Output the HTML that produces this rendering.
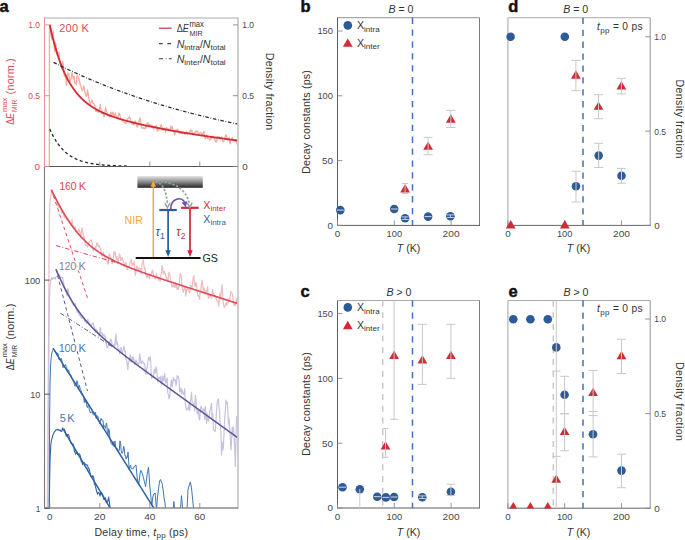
<!DOCTYPE html>
<html><head><meta charset="utf-8"><style>
html,body{margin:0;padding:0;background:#fff;overflow:hidden;}
svg{display:block;}
text{font-family:"Liberation Sans",sans-serif;}
.tk{font-size:9.8px;fill:#484848;}
.tl{font-size:11px;stroke:#fff;stroke-width:2px;paint-order:stroke;stroke-linejoin:round;}
.at{font-size:10.6px;}
.lg{font-size:10.6px;}
.sb{font-size:8px;}
.sb2{font-size:7.2px;}
.pl{font-size:16.5px;font-weight:bold;fill:#111;stroke:#111;stroke-width:0.45px;}
</style></head>
<body><svg width="685" height="540" viewBox="0 0 685 540" fill="#333">
<defs>
<clipPath id="ctop"><rect x="44.5" y="18.5" width="193.5" height="148"/></clipPath>
<clipPath id="cpe"><rect x="500" y="300" width="160" height="208.6"/></clipPath><clipPath id="cbot"><rect x="44.5" y="166.5" width="193.5" height="341.5"/></clipPath>
<linearGradient id="gbar" x1="0" y1="0" x2="0" y2="1"><stop offset="0" stop-color="#e6e6e6"/><stop offset="0.5" stop-color="#8a8a8a"/><stop offset="1" stop-color="#252525"/></linearGradient>
</defs>
<g clip-path="url(#ctop)"><path d="M49.30,167.00 L49.40,100.00 L49.50,25.00 L50.30,25.00 L51.20,36.00 L52.20,40.00 L53.20,31.00 L54.00,44.00 L54.80,52.00 L55.30,42.06 L56.05,45.64 L56.80,54.01 L57.55,52.17 L58.30,55.58 L59.05,52.35 L59.80,63.38 L60.55,63.22 L61.30,63.98 L62.05,68.79 L62.80,61.52 L63.55,65.96 L64.30,76.18 L65.05,74.75 L65.80,77.22 L66.55,85.36 L67.30,75.18 L68.05,72.81 L68.80,73.86 L69.55,80.74 L70.30,81.31 L71.05,78.87 L71.80,72.95 L72.55,75.96 L73.30,78.82 L74.05,76.49 L74.80,82.50 L75.55,83.16 L76.30,84.85 L77.05,75.70 L77.80,76.25 L78.55,77.75 L79.30,80.74 L80.05,84.22 L80.80,85.91 L81.55,89.23 L82.30,90.75 L83.05,89.21 L83.80,85.93 L84.55,90.08 L85.30,93.77 L86.05,96.28 L86.80,95.59 L87.55,89.88 L88.30,94.29 L89.05,99.49 L89.80,102.47 L90.55,104.35 L91.30,101.89 L92.05,100.04 L92.80,103.16 L93.55,103.41 L94.30,104.14 L95.05,106.27 L95.80,111.65 L96.55,110.51 L97.30,111.90 L98.05,109.79 L98.80,112.38 L99.55,107.95 L100.30,104.75 L101.05,109.97 L101.80,113.59 L102.55,113.27 L103.30,114.54 L104.05,117.17 L104.80,112.92 L105.55,107.67 L106.30,110.86 L107.05,112.68 L107.80,115.68 L108.55,114.47 L109.30,116.84 L110.05,115.78 L110.80,112.19 L111.55,116.11 L112.30,112.79 L113.05,112.20 L113.80,115.77 L114.55,115.76 L115.30,113.12 L116.05,116.16 L116.80,117.08 L117.55,118.26 L118.30,115.72 L119.05,112.92 L119.80,114.40 L120.55,118.60 L121.30,119.61 L122.05,119.84 L122.80,119.75 L123.55,121.79 L124.30,122.74 L125.05,123.25 L125.80,123.30 L126.55,121.16 L127.30,118.71 L128.05,118.35 L128.80,118.19 L129.55,116.89 L130.30,118.90 L131.05,120.86 L131.80,123.96 L132.55,121.46 L133.30,124.90 L134.05,124.56 L134.80,121.18 L135.55,121.46 L136.30,124.01 L137.05,127.12 L137.80,125.12 L138.55,124.17 L139.30,120.55 L140.05,117.86 L140.80,122.45 L141.55,126.46 L142.30,128.58 L143.05,127.80 L143.80,127.91 L144.55,128.87 L145.30,127.17 L146.05,128.03 L146.80,124.04 L147.55,122.88 L148.30,122.93 L149.05,125.31 L149.80,124.73 L150.55,125.63 L151.30,125.06 L152.05,124.88 L152.80,127.79 L153.55,129.01 L154.30,126.10 L155.05,126.86 L155.80,125.86 L156.55,125.63 L157.30,130.82 L158.05,130.57 L158.80,128.83 L159.55,127.66 L160.30,127.19 L161.05,124.59 L161.80,126.30 L162.55,130.00 L163.30,130.55 L164.05,128.05 L164.80,128.87 L165.55,131.99 L166.30,127.72 L167.05,128.45 L167.80,128.30 L168.55,130.16 L169.30,130.01 L170.05,130.73 L170.80,125.98 L171.55,128.23 L172.30,126.81 L173.05,131.06 L173.80,132.10 L174.55,135.13 L175.30,132.85 L176.05,129.80 L176.80,131.90 L177.55,129.22 L178.30,130.53 L179.05,133.10 L179.80,133.06 L180.55,133.47 L181.30,133.46 L182.05,133.70 L182.80,133.13 L183.55,132.33 L184.30,133.81 L185.05,134.58 L185.80,132.72 L186.55,131.46 L187.30,134.49 L188.05,132.97 L188.80,133.64 L189.55,133.14 L190.30,129.90 L191.05,131.21 L191.80,130.26 L192.55,134.44 L193.30,133.50 L194.05,133.15 L194.80,133.08 L195.55,131.37 L196.30,131.86 L197.05,130.71 L197.80,131.85 L198.55,133.99 L199.30,133.24 L200.05,132.93 L200.80,132.38 L201.55,134.56 L202.30,133.32 L203.05,134.17 L203.80,131.11 L204.55,135.08 L205.30,138.89 L206.05,137.08 L206.80,135.10 L207.55,138.55 L208.30,138.38 L209.05,138.46 L209.80,140.10 L210.55,138.56 L211.30,138.87 L212.05,137.73 L212.80,136.00 L213.55,138.15 L214.30,138.10 L215.05,140.74 L215.80,141.84 L216.55,141.91 L217.30,136.34 L218.05,137.50 L218.80,136.70 L219.55,137.36 L220.30,138.23 L221.05,138.61 L221.80,136.74 L222.55,140.80 L223.30,141.83 L224.05,140.62 L224.80,139.45 L225.55,135.18 L226.30,135.04 L227.05,138.98 L227.80,140.46 L228.55,138.87 L229.30,138.01 L230.05,143.97 L230.80,139.80 L231.55,139.84 L232.30,137.33 L233.05,140.02 L233.80,139.64 L234.55,141.44 L235.30,141.77 L236.05,139.98 L236.80,142.00 L237.55,145.36 L238.30,146.50 L239.05,145.45" fill="none" stroke="#f2ad9c" stroke-width="1.3" stroke-linejoin="round"/><path d="M49.80,24.90 L50.30,27.22 L50.80,29.47 L51.30,31.67 L51.80,33.81 L52.30,35.90 L52.80,37.92 L53.30,39.90 L53.80,41.82 L54.30,43.70 L54.80,45.52 L55.30,47.30 L55.80,49.03 L56.30,50.72 L56.80,52.36 L57.30,53.96 L57.80,55.52 L58.30,57.04 L58.80,58.52 L59.30,59.96 L59.80,61.37 L60.30,62.74 L60.80,64.07 L61.30,65.38 L61.80,66.65 L62.30,67.88 L62.80,69.09 L63.30,70.26 L63.80,71.41 L64.30,72.53 L64.80,73.62 L65.30,74.68 L65.80,75.72 L66.30,76.73 L66.80,77.72 L67.30,78.68 L67.80,79.62 L68.30,80.54 L68.80,81.43 L69.30,82.31 L69.80,83.16 L70.30,83.99 L70.80,84.80 L71.30,85.60 L71.80,86.37 L72.30,87.13 L72.80,87.87 L73.30,88.59 L73.80,89.29 L74.30,89.98 L74.80,90.65 L75.30,91.31 L75.80,91.95 L76.30,92.58 L76.80,93.20 L77.30,93.80 L77.80,94.38 L78.30,94.96 L78.80,95.52 L79.30,96.07 L79.80,96.60 L80.30,97.13 L80.80,97.64 L81.30,98.15 L81.80,98.64 L82.30,99.12 L82.80,99.59 L83.30,100.06 L83.80,100.51 L84.30,100.95 L84.80,101.39 L85.30,101.81 L85.80,102.23 L86.30,102.64 L86.80,103.04 L87.30,103.43 L87.80,103.81 L88.30,104.19 L88.80,104.56 L89.30,104.93 L89.80,105.28 L90.30,105.63 L90.80,105.97 L91.30,106.31 L91.80,106.64 L92.30,106.97 L92.80,107.28 L93.30,107.60 L93.80,107.91 L94.30,108.21 L94.80,108.50 L95.30,108.80 L95.80,109.08 L96.30,109.37 L96.80,109.64 L97.30,109.92 L97.80,110.18 L98.30,110.45 L98.80,110.71 L99.30,110.96 L99.80,111.21 L100.30,111.46 L100.80,111.71 L101.30,111.95 L101.80,112.18 L102.30,112.42 L102.80,112.65 L103.30,112.87 L103.80,113.10 L104.30,113.32 L104.80,113.53 L105.30,113.75 L105.80,113.96 L106.30,114.17 L106.80,114.37 L107.30,114.57 L107.80,114.77 L108.30,114.97 L108.80,115.17 L109.30,115.36 L109.80,115.55 L110.30,115.74 L110.80,115.92 L111.30,116.11 L111.80,116.29 L112.30,116.47 L112.80,116.64 L113.30,116.82 L113.80,116.99 L114.30,117.16 L114.80,117.33 L115.30,117.50 L115.80,117.67 L116.30,117.83 L116.80,117.99 L117.30,118.15 L117.80,118.31 L118.30,118.47 L118.80,118.63 L119.30,118.78 L119.80,118.94 L120.30,119.09 L120.80,119.24 L121.30,119.39 L121.80,119.53 L122.30,119.68 L122.80,119.83 L123.30,119.97 L123.80,120.11 L124.30,120.25 L124.80,120.39 L125.30,120.53 L125.80,120.67 L126.30,120.81 L126.80,120.94 L127.30,121.08 L127.80,121.21 L128.30,121.35 L128.80,121.48 L129.30,121.61 L129.80,121.74 L130.30,121.87 L130.80,122.00 L131.30,122.12 L131.80,122.25 L132.30,122.38 L132.80,122.50 L133.30,122.63 L133.80,122.75 L134.30,122.87 L134.80,122.99 L135.30,123.11 L135.80,123.23 L136.30,123.35 L136.80,123.47 L137.30,123.59 L137.80,123.71 L138.30,123.83 L138.80,123.94 L139.30,124.06 L139.80,124.17 L140.30,124.29 L140.80,124.40 L141.30,124.51 L141.80,124.63 L142.30,124.74 L142.80,124.85 L143.30,124.96 L143.80,125.07 L144.30,125.18 L144.80,125.29 L145.30,125.40 L145.80,125.51 L146.30,125.62 L146.80,125.72 L147.30,125.83 L147.80,125.94 L148.30,126.04 L148.80,126.15 L149.30,126.25 L149.80,126.36 L150.30,126.46 L150.80,126.56 L151.30,126.67 L151.80,126.77 L152.30,126.87 L152.80,126.98 L153.30,127.08 L153.80,127.18 L154.30,127.28 L154.80,127.38 L155.30,127.48 L155.80,127.58 L156.30,127.68 L156.80,127.78 L157.30,127.87 L157.80,127.97 L158.30,128.07 L158.80,128.17 L159.30,128.27 L159.80,128.36 L160.30,128.46 L160.80,128.55 L161.30,128.65 L161.80,128.75 L162.30,128.84 L162.80,128.93 L163.30,129.03 L163.80,129.12 L164.30,129.22 L164.80,129.31 L165.30,129.40 L165.80,129.50 L166.30,129.59 L166.80,129.68 L167.30,129.77 L167.80,129.86 L168.30,129.96 L168.80,130.05 L169.30,130.14 L169.80,130.23 L170.30,130.32 L170.80,130.41 L171.30,130.50 L171.80,130.59 L172.30,130.68 L172.80,130.77 L173.30,130.85 L173.80,130.94 L174.30,131.03 L174.80,131.12 L175.30,131.21 L175.80,131.29 L176.30,131.38 L176.80,131.47 L177.30,131.55 L177.80,131.64 L178.30,131.73 L178.80,131.81 L179.30,131.90 L179.80,131.98 L180.30,132.07 L180.80,132.15 L181.30,132.24 L181.80,132.32 L182.30,132.40 L182.80,132.49 L183.30,132.57 L183.80,132.66 L184.30,132.74 L184.80,132.82 L185.30,132.90 L185.80,132.99 L186.30,133.07 L186.80,133.15 L187.30,133.23 L187.80,133.31 L188.30,133.40 L188.80,133.48 L189.30,133.56 L189.80,133.64 L190.30,133.72 L190.80,133.80 L191.30,133.88 L191.80,133.96 L192.30,134.04 L192.80,134.12 L193.30,134.20 L193.80,134.28 L194.30,134.35 L194.80,134.43 L195.30,134.51 L195.80,134.59 L196.30,134.67 L196.80,134.75 L197.30,134.82 L197.80,134.90 L198.30,134.98 L198.80,135.05 L199.30,135.13 L199.80,135.21 L200.30,135.28 L200.80,135.36 L201.30,135.44 L201.80,135.51 L202.30,135.59 L202.80,135.66 L203.30,135.74 L203.80,135.81 L204.30,135.89 L204.80,135.96 L205.30,136.04 L205.80,136.11 L206.30,136.19 L206.80,136.26 L207.30,136.33 L207.80,136.41 L208.30,136.48 L208.80,136.55 L209.30,136.63 L209.80,136.70 L210.30,136.77 L210.80,136.84 L211.30,136.92 L211.80,136.99 L212.30,137.06 L212.80,137.13 L213.30,137.20 L213.80,137.27 L214.30,137.34 L214.80,137.42 L215.30,137.49 L215.80,137.56 L216.30,137.63 L216.80,137.70 L217.30,137.77 L217.80,137.84 L218.30,137.91 L218.80,137.98 L219.30,138.05 L219.80,138.12 L220.30,138.18 L220.80,138.25 L221.30,138.32 L221.80,138.39 L222.30,138.46 L222.80,138.53 L223.30,138.60 L223.80,138.66 L224.30,138.73 L224.80,138.80 L225.30,138.87 L225.80,138.93 L226.30,139.00 L226.80,139.07 L227.30,139.13 L227.80,139.20 L228.30,139.27 L228.80,139.33 L229.30,139.40 L229.80,139.46 L230.30,139.53 L230.80,139.60 L231.30,139.66 L231.80,139.73 L232.30,139.79 L232.80,139.86 L233.30,139.92 L233.80,139.99 L234.30,140.05 L234.80,140.11 L235.30,140.18 L235.80,140.24 L236.30,140.31 L236.80,140.37 L237.30,140.43 L237.80,140.50 L238.30,140.56" fill="none" stroke="#d52b38" stroke-width="1.8"/><path d="M49.80,129.04 L50.30,130.18 L50.80,131.27 L51.30,132.34 L51.80,133.37 L52.30,134.37 L52.80,135.34 L53.30,136.28 L53.80,137.20 L54.30,138.08 L54.80,138.94 L55.30,139.77 L55.80,140.58 L56.30,141.36 L56.80,142.12 L57.30,142.85 L57.80,143.57 L58.30,144.26 L58.80,144.93 L59.30,145.58 L59.80,146.21 L60.30,146.82 L60.80,147.42 L61.30,147.99 L61.80,148.55 L62.30,149.09 L62.80,149.61 L63.30,150.12 L63.80,150.62 L64.30,151.09 L64.80,151.56 L65.30,152.01 L65.80,152.44 L66.30,152.87 L66.80,153.28 L67.30,153.67 L67.80,154.06 L68.30,154.43 L68.80,154.80 L69.30,155.15 L69.80,155.49 L70.30,155.82 L70.80,156.14 L71.30,156.45 L71.80,156.75 L72.30,157.05 L72.80,157.33 L73.30,157.60 L73.80,157.87 L74.30,158.13 L74.80,158.38 L75.30,158.62 L75.80,158.86 L76.30,159.09 L76.80,159.31 L77.30,159.52 L77.80,159.73 L78.30,159.93 L78.80,160.13 L79.30,160.32 L79.80,160.50 L80.30,160.68 L80.80,160.86 L81.30,161.02 L81.80,161.19 L82.30,161.34 L82.80,161.50 L83.30,161.65 L83.80,161.79 L84.30,161.93 L84.80,162.07 L85.30,162.20 L85.80,162.32 L86.30,162.45 L86.80,162.57 L87.30,162.68 L87.80,162.80 L88.30,162.91 L88.80,163.01 L89.30,163.11 L89.80,163.21 L90.30,163.31 L90.80,163.40 L91.30,163.49 L91.80,163.58 L92.30,163.67 L92.80,163.75 L93.30,163.83 L93.80,163.91 L94.30,163.98 L94.80,164.06 L95.30,164.13 L95.80,164.20 L96.30,164.26 L96.80,164.33 L97.30,164.39 L97.80,164.45 L98.30,164.51 L98.80,164.57 L99.30,164.62 L99.80,164.68 L100.30,164.73 L100.80,164.78 L101.30,164.83 L101.80,164.88 L102.30,164.92 L102.80,164.97 L103.30,165.01 L103.80,165.05 L104.30,165.09 L104.80,165.13 L105.30,165.17 L105.80,165.21 L106.30,165.25 L106.80,165.28 L107.30,165.31 L107.80,165.35 L108.30,165.38 L108.80,165.41 L109.30,165.44 L109.80,165.47 L110.30,165.50 L110.80,165.52 L111.30,165.55 L111.80,165.58 L112.30,165.60 L112.80,165.63 L113.30,165.65 L113.80,165.67 L114.30,165.69 L114.80,165.72 L115.30,165.74 L115.80,165.76 L116.30,165.78 L116.80,165.80 L117.30,165.81 L117.80,165.83 L118.30,165.85 L118.80,165.87 L119.30,165.88 L119.80,165.90 L120.30,165.91 L120.80,165.93 L121.30,165.94 L121.80,165.96 L122.30,165.97 L122.80,165.98 L123.30,165.99 L123.80,166.01 L124.30,166.02 L124.80,166.03 L125.30,166.04 L125.80,166.05 L126.30,166.06 L126.80,166.07 L127.30,166.08 L127.80,166.09 L128.30,166.10 L128.80,166.11 L129.30,166.12" fill="none" stroke="#2a2a2a" stroke-width="1.35" stroke-dasharray="3,2.6"/><path d="M53.55,62.40 L54.05,62.65 L54.55,62.90 L55.05,63.16 L55.55,63.41 L56.05,63.66 L56.55,63.91 L57.05,64.16 L57.55,64.41 L58.05,64.66 L58.55,64.90 L59.05,65.15 L59.55,65.40 L60.05,65.64 L60.55,65.89 L61.05,66.13 L61.55,66.38 L62.05,66.62 L62.55,66.86 L63.05,67.11 L63.55,67.35 L64.05,67.59 L64.55,67.83 L65.05,68.07 L65.55,68.31 L66.05,68.55 L66.55,68.79 L67.05,69.03 L67.55,69.26 L68.05,69.50 L68.55,69.74 L69.05,69.97 L69.55,70.21 L70.05,70.44 L70.55,70.67 L71.05,70.91 L71.55,71.14 L72.05,71.37 L72.55,71.60 L73.05,71.83 L73.55,72.06 L74.05,72.29 L74.55,72.52 L75.05,72.75 L75.55,72.98 L76.05,73.21 L76.55,73.44 L77.05,73.66 L77.55,73.89 L78.05,74.11 L78.55,74.34 L79.05,74.56 L79.55,74.79 L80.05,75.01 L80.55,75.23 L81.05,75.45 L81.55,75.68 L82.05,75.90 L82.55,76.12 L83.05,76.34 L83.55,76.56 L84.05,76.77 L84.55,76.99 L85.05,77.21 L85.55,77.43 L86.05,77.65 L86.55,77.86 L87.05,78.08 L87.55,78.29 L88.05,78.51 L88.55,78.72 L89.05,78.93 L89.55,79.15 L90.05,79.36 L90.55,79.57 L91.05,79.78 L91.55,79.99 L92.05,80.21 L92.55,80.42 L93.05,80.62 L93.55,80.83 L94.05,81.04 L94.55,81.25 L95.05,81.46 L95.55,81.66 L96.05,81.87 L96.55,82.08 L97.05,82.28 L97.55,82.49 L98.05,82.69 L98.55,82.90 L99.05,83.10 L99.55,83.30 L100.05,83.50 L100.55,83.71 L101.05,83.91 L101.55,84.11 L102.05,84.31 L102.55,84.51 L103.05,84.71 L103.55,84.91 L104.05,85.11 L104.55,85.30 L105.05,85.50 L105.55,85.70 L106.05,85.90 L106.55,86.09 L107.05,86.29 L107.55,86.48 L108.05,86.68 L108.55,86.87 L109.05,87.06 L109.55,87.26 L110.05,87.45 L110.55,87.64 L111.05,87.83 L111.55,88.03 L112.05,88.22 L112.55,88.41 L113.05,88.60 L113.55,88.79 L114.05,88.98 L114.55,89.16 L115.05,89.35 L115.55,89.54 L116.05,89.73 L116.55,89.91 L117.05,90.10 L117.55,90.29 L118.05,90.47 L118.55,90.66 L119.05,90.84 L119.55,91.03 L120.05,91.21 L120.55,91.39 L121.05,91.58 L121.55,91.76 L122.05,91.94 L122.55,92.12 L123.05,92.30 L123.55,92.48 L124.05,92.66 L124.55,92.84 L125.05,93.02 L125.55,93.20 L126.05,93.38 L126.55,93.56 L127.05,93.73 L127.55,93.91 L128.05,94.09 L128.55,94.26 L129.05,94.44 L129.55,94.61 L130.05,94.79 L130.55,94.96 L131.05,95.14 L131.55,95.31 L132.05,95.48 L132.55,95.66 L133.05,95.83 L133.55,96.00 L134.05,96.17 L134.55,96.34 L135.05,96.51 L135.55,96.69 L136.05,96.85 L136.55,97.02 L137.05,97.19 L137.55,97.36 L138.05,97.53 L138.55,97.70 L139.05,97.87 L139.55,98.03 L140.05,98.20 L140.55,98.36 L141.05,98.53 L141.55,98.70 L142.05,98.86 L142.55,99.03 L143.05,99.19 L143.55,99.35 L144.05,99.52 L144.55,99.68 L145.05,99.84 L145.55,100.00 L146.05,100.17 L146.55,100.33 L147.05,100.49 L147.55,100.65 L148.05,100.81 L148.55,100.97 L149.05,101.13 L149.55,101.29 L150.05,101.45 L150.55,101.60 L151.05,101.76 L151.55,101.92 L152.05,102.08 L152.55,102.23 L153.05,102.39 L153.55,102.55 L154.05,102.70 L154.55,102.86 L155.05,103.01 L155.55,103.17 L156.05,103.32 L156.55,103.47 L157.05,103.63 L157.55,103.78 L158.05,103.93 L158.55,104.08 L159.05,104.24 L159.55,104.39 L160.05,104.54 L160.55,104.69 L161.05,104.84 L161.55,104.99 L162.05,105.14 L162.55,105.29 L163.05,105.44 L163.55,105.59 L164.05,105.73 L164.55,105.88 L165.05,106.03 L165.55,106.18 L166.05,106.32 L166.55,106.47 L167.05,106.61 L167.55,106.76 L168.05,106.91 L168.55,107.05 L169.05,107.20 L169.55,107.34 L170.05,107.48 L170.55,107.63 L171.05,107.77 L171.55,107.91 L172.05,108.06 L172.55,108.20 L173.05,108.34 L173.55,108.48 L174.05,108.62 L174.55,108.76 L175.05,108.90 L175.55,109.04 L176.05,109.18 L176.55,109.32 L177.05,109.46 L177.55,109.60 L178.05,109.74 L178.55,109.88 L179.05,110.01 L179.55,110.15 L180.05,110.29 L180.55,110.43 L181.05,110.56 L181.55,110.70 L182.05,110.83 L182.55,110.97 L183.05,111.10 L183.55,111.24 L184.05,111.37 L184.55,111.51 L185.05,111.64 L185.55,111.77 L186.05,111.91 L186.55,112.04 L187.05,112.17 L187.55,112.30 L188.05,112.44 L188.55,112.57 L189.05,112.70 L189.55,112.83 L190.05,112.96 L190.55,113.09 L191.05,113.22 L191.55,113.35 L192.05,113.48 L192.55,113.61 L193.05,113.74 L193.55,113.86 L194.05,113.99 L194.55,114.12 L195.05,114.25 L195.55,114.37 L196.05,114.50 L196.55,114.63 L197.05,114.75 L197.55,114.88 L198.05,115.01 L198.55,115.13 L199.05,115.26 L199.55,115.38 L200.05,115.50 L200.55,115.63 L201.05,115.75 L201.55,115.88 L202.05,116.00 L202.55,116.12 L203.05,116.24 L203.55,116.37 L204.05,116.49 L204.55,116.61 L205.05,116.73 L205.55,116.85 L206.05,116.97 L206.55,117.09 L207.05,117.21 L207.55,117.33 L208.05,117.45 L208.55,117.57 L209.05,117.69 L209.55,117.81 L210.05,117.93 L210.55,118.05 L211.05,118.16 L211.55,118.28 L212.05,118.40 L212.55,118.51 L213.05,118.63 L213.55,118.75 L214.05,118.86 L214.55,118.98 L215.05,119.10 L215.55,119.21 L216.05,119.33 L216.55,119.44 L217.05,119.55 L217.55,119.67 L218.05,119.78 L218.55,119.90 L219.05,120.01 L219.55,120.12 L220.05,120.24 L220.55,120.35 L221.05,120.46 L221.55,120.57 L222.05,120.68 L222.55,120.79 L223.05,120.91 L223.55,121.02 L224.05,121.13 L224.55,121.24 L225.05,121.35 L225.55,121.46 L226.05,121.57 L226.55,121.68 L227.05,121.78 L227.55,121.89 L228.05,122.00 L228.55,122.11 L229.05,122.22 L229.55,122.33 L230.05,122.43 L230.55,122.54 L231.05,122.65 L231.55,122.75 L232.05,122.86 L232.55,122.97 L233.05,123.07 L233.55,123.18 L234.05,123.28 L234.55,123.39 L235.05,123.49 L235.55,123.60 L236.05,123.70 L236.55,123.81 L237.05,123.91 L237.55,124.01 L238.05,124.12 L238.55,124.22" fill="none" stroke="#2a2a2a" stroke-width="1.25" stroke-dasharray="3.5,1.75,0.7,1.75"/></g>
<g clip-path="url(#cbot)"><path d="M47.20,510.00 L47.50,480.00 L48.00,420.00 L48.60,330.00 L49.10,250.00 L49.40,216.00 L49.90,203.00 L50.50,196.50 L51.10,194.50 L51.40,191.38 L52.02,193.35 L52.65,194.54 L53.27,195.62 L53.90,195.66 L54.52,197.65 L55.15,197.79 L55.77,198.09 L56.40,200.38 L57.02,202.42 L57.65,204.34 L58.27,207.74 L58.90,207.81 L59.52,206.52 L60.15,206.25 L60.77,208.71 L61.40,212.96 L62.02,212.70 L62.65,211.84 L63.27,213.27 L63.90,215.99 L64.52,218.00 L65.15,215.57 L65.77,216.94 L66.40,219.26 L67.02,219.84 L67.65,217.91 L68.27,220.30 L68.90,220.21 L69.52,222.85 L70.15,222.22 L70.78,225.13 L71.40,223.88 L72.03,219.57 L72.65,223.32 L73.28,227.40 L73.90,228.37 L74.53,228.22 L75.15,226.62 L75.78,229.37 L76.40,232.38 L77.03,231.46 L77.65,231.93 L78.28,231.44 L78.90,228.94 L79.53,231.00 L80.15,233.32 L80.78,237.40 L81.40,232.29 L82.03,227.88 L82.65,231.18 L83.28,235.92 L83.90,238.16 L84.53,236.97 L85.15,243.73 L85.78,245.47 L86.40,244.84 L87.03,245.22 L87.65,247.10 L88.28,244.07 L88.90,242.64 L89.53,241.34 L90.15,240.83 L90.78,240.99 L91.40,239.82 L92.03,242.16 L92.65,249.49 L93.28,250.57 L93.90,248.56 L94.53,249.41 L95.15,246.84 L95.78,248.10 L96.40,244.55 L97.03,242.76 L97.65,243.79 L98.28,246.93 L98.90,245.14 L99.53,246.51 L100.15,248.09 L100.78,248.53 L101.40,255.58 L102.03,254.58 L102.65,255.86 L103.28,251.96 L103.90,253.65 L104.53,257.36 L105.15,257.78 L105.78,257.70 L106.40,259.69 L107.03,261.11 L107.65,264.05 L108.28,263.84 L108.90,254.77 L109.53,253.95 L110.15,256.67 L110.78,257.85 L111.40,258.55 L112.03,263.69 L112.65,263.03 L113.28,257.39 L113.90,251.92 L114.52,254.62 L115.15,251.71 L115.77,257.19 L116.40,259.71 L117.02,256.55 L117.65,260.27 L118.27,262.35 L118.90,257.80 L119.52,253.86 L120.15,255.69 L120.77,260.70 L121.40,258.80 L122.02,257.37 L122.65,260.23 L123.27,260.49 L123.90,263.83 L124.52,266.27 L125.15,264.96 L125.77,262.49 L126.40,264.22 L127.02,269.06 L127.65,269.70 L128.27,266.11 L128.90,267.65 L129.52,265.56 L130.15,262.00 L130.77,260.91 L131.40,259.14 L132.02,265.72 L132.65,263.63 L133.27,264.83 L133.90,261.75 L134.52,265.46 L135.15,275.33 L135.77,273.33 L136.40,267.72 L137.02,265.84 L137.65,267.04 L138.27,270.24 L138.90,269.31 L139.52,268.01 L140.15,268.99 L140.77,268.66 L141.40,273.24 L142.02,263.82 L142.65,262.25 L143.27,259.71 L143.90,265.59 L144.52,269.19 L145.15,268.14 L145.77,273.59 L146.40,276.87 L147.02,277.97 L147.65,275.03 L148.27,275.91 L148.90,277.47 L149.52,278.65 L150.15,274.12 L150.77,274.94 L151.40,274.51 L152.02,271.35 L152.65,270.13 L153.27,274.35 L153.90,276.43 L154.52,278.03 L155.15,278.72 L155.77,278.93 L156.40,273.40 L157.02,276.39 L157.65,277.37 L158.27,280.15 L158.90,277.20 L159.52,278.07 L160.15,281.44 L160.77,275.73 L161.40,272.99 L162.02,265.51 L162.65,267.53 L163.27,273.83 L163.90,273.25 L164.52,271.30 L165.15,274.40 L165.77,276.10 L166.40,276.82 L167.02,279.96 L167.65,278.17 L168.27,280.45 L168.90,272.22 L169.52,273.22 L170.15,276.82 L170.77,280.38 L171.40,283.03 L172.02,286.99 L172.65,286.43 L173.27,284.29 L173.90,287.20 L174.52,286.81 L175.15,282.87 L175.77,287.69 L176.40,285.12 L177.02,289.50 L177.65,287.32 L178.27,289.37 L178.90,287.64 L179.52,280.68 L180.15,273.32 L180.77,274.58 L181.40,277.47 L182.02,285.95 L182.65,289.10 L183.27,292.51 L183.90,289.69 L184.52,289.16 L185.15,286.61 L185.77,296.12 L186.40,292.47 L187.02,287.80 L187.65,289.32 L188.27,290.07 L188.90,289.82 L189.52,292.97 L190.15,289.89 L190.77,284.99 L191.40,287.74 L192.02,289.03 L192.65,282.19 L193.27,276.98 L193.90,275.78 L194.52,284.49 L195.15,286.79 L195.77,282.66 L196.40,283.89 L197.02,290.05 L197.65,294.36 L198.27,296.27 L198.90,295.87 L199.52,299.41 L200.15,291.93 L200.77,290.10 L201.40,283.47 L202.02,280.06 L202.65,284.60 L203.27,291.26 L203.90,287.84 L204.52,288.88 L205.15,293.79 L205.77,292.71 L206.40,290.07 L207.02,291.94 L207.65,286.54 L208.27,298.22 L208.90,297.81 L209.52,294.55 L210.15,295.14 L210.77,297.37 L211.40,298.11 L212.02,295.66 L212.65,289.63 L213.27,295.49 L213.90,292.96 L214.52,296.54 L215.15,295.55 L215.77,296.04 L216.40,300.17 L217.02,300.72 L217.65,300.09 L218.27,304.19 L218.90,306.13 L219.52,296.65 L220.15,293.13 L220.77,299.08 L221.40,291.09 L222.02,284.48 L222.65,293.87 L223.27,302.44 L223.90,306.55 L224.52,307.49 L225.15,305.39 L225.77,304.32 L226.40,302.24 L227.02,305.28 L227.65,303.55 L228.27,302.51 L228.90,298.71 L229.52,299.64 L230.15,296.50 L230.77,291.61 L231.40,292.16 L232.02,292.99 L232.65,295.98 L233.27,300.87 L233.90,304.98 L234.52,305.37 L235.15,302.07 L235.77,305.43 L236.40,298.27 L237.02,299.94 L237.65,305.73 L238.27,310.98" fill="none" stroke="#eebcc1" stroke-width="1.2" stroke-linejoin="round"/><path d="M47.70,510.00 L48.00,470.00 L48.50,400.00 L49.00,330.00 L49.40,300.00 L49.90,287.00 L50.50,281.30 L51.00,279.00 L51.60,277.90 L52.30,279.50 L53.00,277.60 L53.90,278.70 L54.60,277.80 L55.20,279.00 L55.70,277.20 L56.50,276.50 L57.20,276.80 L57.80,274.21 L58.42,275.60 L59.05,274.38 L59.67,274.81 L60.30,277.90 L60.92,277.68 L61.55,277.70 L62.17,277.13 L62.80,278.36 L63.42,282.06 L64.05,285.81 L64.67,286.86 L65.30,291.75 L65.92,290.11 L66.55,293.61 L67.17,295.75 L67.80,288.48 L68.42,289.86 L69.05,295.67 L69.67,296.72 L70.30,297.70 L70.92,298.21 L71.55,301.55 L72.17,303.09 L72.80,304.07 L73.42,305.50 L74.05,304.46 L74.67,304.90 L75.30,303.34 L75.92,308.44 L76.55,309.18 L77.17,312.31 L77.80,311.97 L78.42,310.19 L79.05,314.83 L79.67,314.88 L80.30,315.82 L80.92,317.50 L81.55,317.75 L82.17,318.48 L82.80,318.32 L83.42,316.99 L84.05,318.00 L84.67,320.71 L85.30,322.12 L85.92,322.02 L86.55,323.60 L87.17,321.95 L87.80,319.32 L88.42,321.69 L89.05,322.92 L89.67,323.08 L90.30,324.72 L90.92,325.59 L91.55,325.25 L92.17,323.58 L92.80,323.32 L93.42,323.22 L94.05,327.25 L94.67,329.65 L95.30,332.13 L95.92,328.98 L96.55,330.80 L97.17,330.31 L97.80,333.27 L98.42,334.19 L99.05,336.41 L99.67,332.23 L100.30,327.57 L100.92,334.02 L101.55,332.36 L102.17,332.93 L102.80,336.19 L103.42,335.51 L104.05,334.08 L104.67,336.56 L105.30,336.22 L105.92,341.86 L106.55,346.07 L107.17,348.18 L107.80,347.22 L108.42,344.44 L109.05,342.52 L109.67,345.34 L110.30,339.29 L110.92,339.18 L111.55,340.87 L112.17,345.36 L112.80,346.79 L113.42,345.18 L114.05,344.59 L114.67,346.66 L115.30,339.11 L115.92,334.13 L116.55,344.18 L117.17,341.77 L117.80,346.14 L118.42,350.46 L119.05,349.08 L119.67,353.71 L120.30,350.34 L120.92,347.45 L121.55,352.28 L122.17,353.22 L122.80,350.58 L123.42,349.92 L124.05,346.13 L124.67,351.38 L125.30,350.96 L125.92,359.73 L126.55,360.49 L127.17,364.43 L127.80,369.64 L128.43,362.28 L129.05,361.43 L129.68,358.40 L130.30,354.79 L130.93,361.93 L131.55,361.68 L132.18,356.55 L132.80,360.23 L133.43,357.18 L134.05,360.24 L134.68,364.49 L135.30,362.76 L135.93,359.82 L136.55,361.15 L137.18,363.35 L137.80,363.16 L138.43,364.11 L139.05,363.22 L139.68,353.80 L140.30,357.84 L140.93,363.68 L141.55,363.61 L142.18,360.90 L142.80,361.30 L143.43,363.04 L144.05,363.61 L144.68,363.62 L145.30,372.45 L145.93,374.33 L146.55,367.85 L147.18,368.00 L147.80,362.22 L148.43,357.27 L149.05,358.81 L149.68,360.36 L150.30,356.52 L150.93,367.44 L151.55,378.31 L152.18,377.65 L152.80,376.37 L153.43,376.42 L154.05,370.72 L154.68,369.64 L155.30,373.18 L155.93,366.94 L156.55,368.89 L157.18,374.98 L157.80,382.20 L158.43,378.83 L159.05,377.09 L159.68,377.31 L160.30,380.24 L160.93,376.05 L161.55,384.77 L162.18,382.74 L162.80,376.16 L163.43,380.94 L164.05,378.64 L164.68,373.34 L165.30,380.91 L165.93,383.13 L166.55,379.79 L167.18,378.01 L167.80,392.91 L168.43,394.75 L169.05,398.82 L169.68,396.93 L170.30,388.89 L170.93,382.96 L171.55,379.75 L172.18,387.03 L172.80,382.95 L173.43,377.51 L174.05,380.48 L174.68,380.75 L175.30,379.66 L175.93,385.28 L176.55,383.27 L177.18,375.28 L177.80,377.73 L178.43,376.56 L179.05,379.85 L179.68,391.80 L180.30,391.77 L180.93,387.96 L181.55,393.94 L182.18,389.86 L182.80,393.04 L183.43,394.21 L184.05,394.62 L184.68,388.52 L185.30,403.14 L185.93,407.62 L186.55,409.79 L187.18,410.06 L187.80,407.69 L188.43,409.20 L189.05,403.54 L189.68,410.64 L190.30,401.92 L190.93,397.92 L191.55,392.26 L192.18,402.44 L192.80,402.58 L193.43,403.42 L194.05,404.67 L194.68,411.02 L195.30,395.27 L195.93,400.08 L196.55,407.68 L197.18,413.67 L197.80,413.82 L198.43,409.16 L199.05,418.59 L199.68,419.88 L200.30,411.05 L200.93,406.37 L201.55,407.39 L202.18,409.76 L202.80,412.07 L203.43,410.12 L204.05,408.80 L204.68,419.49 L205.30,406.64 L205.93,413.54 L206.55,423.40 L207.18,413.64 L207.80,419.28 L208.43,421.43 L209.05,419.03 L209.68,411.75 L210.30,408.84 L210.93,406.59 L211.55,403.45 L212.18,418.19 L212.80,413.45 L213.43,429.30 L214.05,430.50 L214.68,431.17 L215.30,431.21 L215.93,420.68 L216.55,409.50 L217.18,402.89 L217.80,399.94 L218.43,398.68 L219.05,407.29 L219.68,413.85 L220.30,425.80 L220.93,432.62 L221.55,454.90 L222.18,442.06 L222.80,449.89 L223.43,447.08 L224.05,431.97 L224.68,418.98 L225.30,412.06 L225.93,400.08 L226.55,403.71 L227.18,401.86 L227.80,409.31 L228.43,424.09 L229.05,418.85 L229.68,429.52 L230.30,438.81 L230.93,450.02 L231.55,442.08 L232.18,427.56 L232.80,435.61 L233.43,426.85 L234.05,434.48 L234.68,447.02 L235.30,466.43 L235.93,441.06 L236.55,416.62 L237.18,418.43 L237.80,424.11 L238.43,448.93" fill="none" stroke="#c7c2df" stroke-width="1.2" stroke-linejoin="round"/><path d="M49.20,510.00 L49.35,470.00 L49.60,420.00 L50.00,385.00 L50.50,367.00 L51.10,358.00 L51.80,353.00 L52.60,350.50 L53.40,349.20 L54.20,349.50 L54.30,349.91 L54.92,350.95 L55.55,352.30 L56.17,352.16 L56.80,355.21 L57.42,352.83 L58.05,353.89 L58.67,359.13 L59.30,359.88 L59.92,358.99 L60.55,360.88 L61.17,358.18 L61.80,359.87 L62.42,364.42 L63.05,367.65 L63.67,365.93 L64.30,367.37 L64.92,365.30 L65.55,364.56 L66.17,366.84 L66.80,367.66 L67.42,371.07 L68.05,370.24 L68.67,370.02 L69.30,372.58 L69.92,373.83 L70.55,374.96 L71.17,375.69 L71.80,378.53 L72.42,379.22 L73.05,380.81 L73.67,382.12 L74.30,384.14 L74.92,386.05 L75.55,385.80 L76.17,385.59 L76.80,380.70 L77.42,381.52 L78.05,385.91 L78.67,389.59 L79.30,385.40 L79.92,387.60 L80.55,389.49 L81.17,390.62 L81.80,393.45 L82.42,393.23 L83.05,395.57 L83.67,395.76 L84.30,402.58 L84.92,399.04 L85.55,402.32 L86.17,399.99 L86.80,406.30 L87.42,407.66 L88.05,405.34 L88.67,404.09 L89.30,409.94 L89.92,411.62 L90.55,413.08 L91.17,411.66 L91.80,412.46 L92.42,412.05 L93.05,414.41 L93.67,415.18 L94.30,414.27 L94.92,412.86 L95.55,412.02 L96.17,418.37 L96.80,415.32 L97.42,417.07 L98.05,416.70 L98.67,420.96 L99.30,420.44 L99.92,423.87 L100.55,419.59 L101.17,418.31 L101.80,420.33 L102.42,419.80 L103.05,420.72 L103.67,427.01 L104.30,425.70 L104.92,426.85 L105.55,428.36 L106.17,423.40 L106.80,423.50 L107.42,433.60 L108.05,435.08 L108.67,428.73 L109.30,430.33 L109.92,438.28 L110.55,441.73 L111.17,443.66 L111.80,443.68 L112.42,445.22 L113.05,441.54 L113.67,445.64 L114.30,446.86 L114.92,441.01 L115.55,446.08 L116.17,448.33 L116.80,448.95 L117.42,448.43 L118.05,450.24 L118.67,450.53 L119.30,450.49 L119.92,440.92 L120.55,443.02 L121.17,450.42 L121.80,453.10 L122.42,453.27 L123.05,451.01 L123.67,446.29 L124.30,448.61 L124.92,455.83 L125.55,455.53 L126.17,459.13 L126.80,456.73 L127.42,457.27 L128.05,452.09 L128.67,461.75 L129.30,469.83 L129.92,466.52 L130.55,465.01 L131.17,468.32 L131.80,469.12 L132.42,468.80 L133.05,468.92 L134.50,466.00 L136.00,465.00 L137.20,478.00 L138.70,485.00 L140.00,474.00 L140.80,470.30 L142.40,473.50 L144.00,480.00 L145.60,486.70 L147.20,474.00 L148.50,467.10 L149.80,486.00 L151.20,500.00 L151.90,505.70 L152.80,497.00 L153.80,494.00 L155.10,493.00 L156.20,506.00 L156.60,509.00 L157.50,497.00 L158.80,486.70 L159.70,481.00 L160.60,479.50 L161.40,482.00 L162.20,483.50 L163.10,490.00 L164.00,497.20 L165.00,503.00 L165.60,509.00 L173.20,509.00 L173.90,501.50 L174.60,509.00 L180.50,509.00 L181.50,495.70 L182.60,509.00 L187.00,509.00 L188.00,490.00 L189.00,486.00 L190.40,481.90 L191.50,488.00 L192.50,498.00 L193.60,509.00" fill="none" stroke="#4475b3" stroke-width="1.0"/><path d="M49.30,510.00 L49.60,482.00 L50.10,458.00 L50.80,445.00 L51.60,439.50 L52.40,437.00 L53.30,434.00 L54.30,432.00 L55.20,431.20 L55.90,430.00 L56.60,429.80 L57.30,429.20 L58.00,430.20 L58.70,429.50 L59.50,430.50 L60.30,430.20 L61.00,431.50 L61.80,431.20 L62.55,427.72 L63.17,429.84 L63.80,429.08 L64.42,429.24 L65.05,431.26 L65.67,434.17 L66.30,435.94 L66.92,435.73 L67.55,434.65 L68.17,434.44 L68.80,435.23 L69.42,438.19 L70.05,440.42 L70.67,443.09 L71.30,442.82 L71.92,444.11 L72.55,445.18 L73.17,444.39 L73.80,446.54 L74.42,451.74 L75.05,452.35 L75.67,454.03 L76.30,452.93 L76.92,452.35 L77.55,454.55 L78.17,454.15 L78.80,453.91 L79.42,453.82 L80.05,455.11 L80.67,457.63 L81.30,461.65 L81.92,461.74 L82.55,464.35 L83.17,463.75 L83.80,462.58 L84.42,462.74 L85.05,463.92 L85.67,464.12 L86.30,464.77 L86.92,465.13 L87.55,465.20 L88.17,468.22 L88.80,468.14 L89.42,469.90 L90.05,473.37 L90.67,476.32 L91.30,476.77 L91.92,477.16 L92.55,476.01 L93.17,476.20 L93.80,477.97 L94.42,484.27 L95.05,484.15 L95.67,487.46 L96.30,489.95 L96.92,492.39 L97.55,494.02 L98.17,492.49 L98.80,492.74 L99.42,493.56 L100.05,496.36 L100.67,492.77 L101.30,492.46 L101.92,493.19 L102.55,494.43 L103.17,496.58 L103.80,499.38 L104.42,499.33 L105.05,497.67 L105.67,498.72 L106.30,502.40 L106.92,502.43 L107.55,502.00 L108.17,499.26 L108.80,497.65 L109.42,502.29 L110.05,507.74 L110.67,511.92 L111.30,514.13 L111.92,517.06 L112.55,516.44 L113.17,517.17 L113.80,514.06 L114.42,513.35" fill="none" stroke="#3363a6" stroke-width="1.1"/><path d="M51.40,189.73 L52.02,191.04 L52.65,192.34 L53.27,193.62 L53.90,194.89 L54.52,196.15 L55.15,197.39 L55.77,198.62 L56.40,199.84 L57.02,201.04 L57.65,202.23 L58.27,203.41 L58.90,204.57 L59.52,205.72 L60.15,206.85 L60.77,207.97 L61.40,209.08 L62.02,210.17 L62.65,211.25 L63.27,212.31 L63.90,213.36 L64.52,214.40 L65.15,215.42 L65.77,216.42 L66.40,217.42 L67.02,218.39 L67.65,219.36 L68.27,220.31 L68.90,221.25 L69.52,222.17 L70.15,223.08 L70.78,223.97 L71.40,224.85 L72.03,225.72 L72.65,226.57 L73.28,227.41 L73.90,228.24 L74.53,229.05 L75.15,229.86 L75.78,230.64 L76.40,231.42 L77.03,232.18 L77.65,232.93 L78.28,233.67 L78.90,234.39 L79.53,235.10 L80.15,235.80 L80.78,236.49 L81.40,237.17 L82.03,237.84 L82.65,238.49 L83.28,239.13 L83.90,239.77 L84.53,240.39 L85.15,241.00 L85.78,241.60 L86.40,242.19 L87.03,242.77 L87.65,243.34 L88.28,243.90 L88.90,244.45 L89.53,244.99 L90.15,245.53 L90.78,246.05 L91.40,246.57 L92.03,247.07 L92.65,247.57 L93.28,248.06 L93.90,248.54 L94.53,249.02 L95.15,249.48 L95.78,249.94 L96.40,250.39 L97.03,250.84 L97.65,251.28 L98.28,251.71 L98.90,252.13 L99.53,252.55 L100.15,252.96 L100.78,253.36 L101.40,253.76 L102.03,254.16 L102.65,254.54 L103.28,254.92 L103.90,255.30 L104.53,255.67 L105.15,256.04 L105.78,256.40 L106.40,256.75 L107.03,257.11 L107.65,257.45 L108.28,257.80 L108.90,258.13 L109.53,258.47 L110.15,258.80 L110.78,259.12 L111.40,259.44 L112.03,259.76 L112.65,260.08 L113.28,260.39 L113.90,260.69 L114.52,261.00 L115.15,261.30 L115.77,261.60 L116.40,261.89 L117.02,262.18 L117.65,262.47 L118.27,262.76 L118.90,263.04 L119.52,263.32 L120.15,263.60 L120.77,263.87 L121.40,264.15 L122.02,264.42 L122.65,264.68 L123.27,264.95 L123.90,265.22 L124.52,265.48 L125.15,265.74 L125.77,266.00 L126.40,266.25 L127.02,266.51 L127.65,266.76 L128.27,267.01 L128.90,267.26 L129.52,267.51 L130.15,267.75 L130.77,268.00 L131.40,268.24 L132.02,268.48 L132.65,268.72 L133.27,268.96 L133.90,269.20 L134.52,269.44 L135.15,269.67 L135.77,269.91 L136.40,270.14 L137.02,270.37 L137.65,270.60 L138.27,270.83 L138.90,271.06 L139.52,271.29 L140.15,271.52 L140.77,271.74 L141.40,271.97 L142.02,272.19 L142.65,272.42 L143.27,272.64 L143.90,272.86 L144.52,273.08 L145.15,273.30 L145.77,273.52 L146.40,273.74 L147.02,273.96 L147.65,274.18 L148.27,274.40 L148.90,274.61 L149.52,274.83 L150.15,275.04 L150.77,275.26 L151.40,275.47 L152.02,275.69 L152.65,275.90 L153.27,276.12 L153.90,276.33 L154.52,276.54 L155.15,276.75 L155.77,276.96 L156.40,277.18 L157.02,277.39 L157.65,277.60 L158.27,277.81 L158.90,278.02 L159.52,278.23 L160.15,278.44 L160.77,278.64 L161.40,278.85 L162.02,279.06 L162.65,279.27 L163.27,279.48 L163.90,279.68 L164.52,279.89 L165.15,280.10 L165.77,280.31 L166.40,280.51 L167.02,280.72 L167.65,280.92 L168.27,281.13 L168.90,281.34 L169.52,281.54 L170.15,281.75 L170.77,281.95 L171.40,282.16 L172.02,282.36 L172.65,282.57 L173.27,282.77 L173.90,282.97 L174.52,283.18 L175.15,283.38 L175.77,283.59 L176.40,283.79 L177.02,283.99 L177.65,284.20 L178.27,284.40 L178.90,284.60 L179.52,284.81 L180.15,285.01 L180.77,285.21 L181.40,285.42 L182.02,285.62 L182.65,285.82 L183.27,286.02 L183.90,286.23 L184.52,286.43 L185.15,286.63 L185.77,286.83 L186.40,287.03 L187.02,287.24 L187.65,287.44 L188.27,287.64 L188.90,287.84 L189.52,288.04 L190.15,288.25 L190.77,288.45 L191.40,288.65 L192.02,288.85 L192.65,289.05 L193.27,289.25 L193.90,289.45 L194.52,289.66 L195.15,289.86 L195.77,290.06 L196.40,290.26 L197.02,290.46 L197.65,290.66 L198.27,290.86 L198.90,291.06 L199.52,291.26 L200.15,291.46 L200.77,291.67 L201.40,291.87 L202.02,292.07 L202.65,292.27 L203.27,292.47 L203.90,292.67 L204.52,292.87 L205.15,293.07 L205.77,293.27 L206.40,293.47 L207.02,293.67 L207.65,293.87 L208.27,294.07 L208.90,294.27 L209.52,294.47 L210.15,294.67 L210.77,294.87 L211.40,295.08 L212.02,295.28 L212.65,295.48 L213.27,295.68 L213.90,295.88 L214.52,296.08 L215.15,296.28 L215.77,296.48 L216.40,296.68 L217.02,296.88 L217.65,297.08 L218.27,297.28 L218.90,297.48 L219.52,297.68 L220.15,297.88 L220.77,298.08 L221.40,298.28 L222.02,298.48 L222.65,298.68 L223.27,298.88 L223.90,299.08 L224.52,299.28 L225.15,299.48 L225.77,299.68 L226.40,299.88 L227.02,300.08 L227.65,300.28 L228.27,300.48 L228.90,300.68 L229.52,300.88 L230.15,301.08 L230.77,301.28 L231.40,301.48 L232.02,301.68 L232.65,301.88 L233.27,302.08 L233.90,302.28 L234.52,302.48 L235.15,302.68 L235.77,302.88 L236.40,303.08 L237.02,303.28 L237.65,303.48 L238.27,303.68" fill="none" stroke="#e04a56" stroke-width="1.6"/><path d="M56.00,269.29 L56.62,270.77 L57.25,272.23 L57.88,273.68 L58.50,275.10 L59.12,276.51 L59.75,277.89 L60.38,279.26 L61.00,280.61 L61.62,281.93 L62.25,283.24 L62.88,284.53 L63.50,285.80 L64.12,287.05 L64.75,288.29 L65.38,289.50 L66.00,290.70 L66.62,291.87 L67.25,293.03 L67.88,294.17 L68.50,295.30 L69.12,296.41 L69.75,297.49 L70.38,298.57 L71.00,299.62 L71.62,300.66 L72.25,301.69 L72.88,302.69 L73.50,303.68 L74.12,304.66 L74.75,305.62 L75.38,306.57 L76.00,307.50 L76.62,308.42 L77.25,309.32 L77.88,310.21 L78.50,311.08 L79.12,311.95 L79.75,312.80 L80.38,313.64 L81.00,314.46 L81.62,315.28 L82.25,316.08 L82.88,316.87 L83.50,317.65 L84.12,318.42 L84.75,319.18 L85.38,319.93 L86.00,320.66 L86.62,321.39 L87.25,322.11 L87.88,322.82 L88.50,323.53 L89.12,324.22 L89.75,324.90 L90.38,325.58 L91.00,326.25 L91.62,326.91 L92.25,327.57 L92.88,328.21 L93.50,328.85 L94.12,329.49 L94.75,330.11 L95.38,330.73 L96.00,331.35 L96.62,331.96 L97.25,332.56 L97.88,333.16 L98.50,333.75 L99.12,334.34 L99.75,334.92 L100.38,335.50 L101.00,336.07 L101.62,336.64 L102.25,337.20 L102.88,337.76 L103.50,338.32 L104.12,338.87 L104.75,339.42 L105.38,339.96 L106.00,340.50 L106.62,341.04 L107.25,341.58 L107.88,342.11 L108.50,342.64 L109.12,343.16 L109.75,343.68 L110.38,344.20 L111.00,344.72 L111.62,345.24 L112.25,345.75 L112.88,346.26 L113.50,346.77 L114.12,347.27 L114.75,347.78 L115.38,348.28 L116.00,348.78 L116.62,349.27 L117.25,349.77 L117.88,350.26 L118.50,350.76 L119.12,351.25 L119.75,351.74 L120.38,352.23 L121.00,352.71 L121.62,353.20 L122.25,353.68 L122.88,354.16 L123.50,354.64 L124.12,355.12 L124.75,355.60 L125.38,356.08 L126.00,356.56 L126.62,357.03 L127.25,357.51 L127.88,357.98 L128.50,358.46 L129.12,358.93 L129.75,359.40 L130.38,359.87 L131.00,360.34 L131.62,360.81 L132.25,361.28 L132.88,361.74 L133.50,362.21 L134.12,362.68 L134.75,363.14 L135.38,363.61 L136.00,364.07 L136.62,364.54 L137.25,365.00 L137.88,365.46 L138.50,365.93 L139.12,366.39 L139.75,366.85 L140.38,367.31 L141.00,367.77 L141.62,368.23 L142.25,368.69 L142.88,369.15 L143.50,369.61 L144.12,370.07 L144.75,370.53 L145.38,370.99 L146.00,371.45 L146.62,371.90 L147.25,372.36 L147.88,372.82 L148.50,373.27 L149.12,373.73 L149.75,374.19 L150.38,374.64 L151.00,375.10 L151.62,375.55 L152.25,376.01 L152.88,376.47 L153.50,376.92 L154.12,377.38 L154.75,377.83 L155.38,378.29 L156.00,378.74 L156.62,379.19 L157.25,379.65 L157.88,380.10 L158.50,380.56 L159.12,381.01 L159.75,381.46 L160.38,381.92 L161.00,382.37 L161.62,382.82 L162.25,383.28 L162.88,383.73 L163.50,384.18 L164.12,384.64 L164.75,385.09 L165.38,385.54 L166.00,385.99 L166.62,386.45 L167.25,386.90 L167.88,387.35 L168.50,387.80 L169.12,388.26 L169.75,388.71 L170.38,389.16 L171.00,389.61 L171.62,390.06 L172.25,390.52 L172.88,390.97 L173.50,391.42 L174.12,391.87 L174.75,392.32 L175.38,392.77 L176.00,393.23 L176.62,393.68 L177.25,394.13 L177.88,394.58 L178.50,395.03 L179.12,395.48 L179.75,395.93 L180.38,396.39 L181.00,396.84 L181.62,397.29 L182.25,397.74 L182.88,398.19 L183.50,398.64 L184.12,399.09 L184.75,399.54 L185.38,400.00 L186.00,400.45 L186.62,400.90 L187.25,401.35 L187.88,401.80 L188.50,402.25 L189.12,402.70 L189.75,403.15 L190.38,403.60 L191.00,404.05 L191.62,404.51 L192.25,404.96 L192.88,405.41 L193.50,405.86 L194.12,406.31 L194.75,406.76 L195.38,407.21 L196.00,407.66 L196.62,408.11 L197.25,408.56 L197.88,409.01 L198.50,409.46 L199.12,409.92 L199.75,410.37 L200.38,410.82 L201.00,411.27 L201.62,411.72 L202.25,412.17 L202.88,412.62 L203.50,413.07 L204.12,413.52 L204.75,413.97 L205.38,414.42 L206.00,414.87 L206.62,415.32 L207.25,415.77 L207.88,416.22 L208.50,416.68 L209.12,417.13 L209.75,417.58 L210.38,418.03 L211.00,418.48 L211.62,418.93 L212.25,419.38 L212.88,419.83 L213.50,420.28 L214.12,420.73 L214.75,421.18 L215.38,421.63 L216.00,422.08 L216.62,422.53 L217.25,422.98 L217.88,423.43 L218.50,423.88 L219.12,424.34 L219.75,424.79 L220.38,425.24 L221.00,425.69 L221.62,426.14 L222.25,426.59 L222.88,427.04 L223.50,427.49 L224.12,427.94 L224.75,428.39 L225.38,428.84 L226.00,429.29 L226.62,429.74 L227.25,430.19 L227.88,430.64 L228.50,431.09 L229.12,431.54 L229.75,431.99 L230.38,432.44 L231.00,432.90 L231.62,433.35 L232.25,433.80 L232.88,434.25 L233.50,434.70 L234.12,435.15 L234.75,435.60 L235.38,436.05 L236.00,436.50 L236.62,436.95 L237.25,437.40 L237.88,437.85 L238.50,438.30" fill="none" stroke="#5d5796" stroke-width="1.5"/><path d="M53.00,348.20 L53.62,349.20 L54.25,350.19 L54.88,351.18 L55.50,352.17 L56.12,353.16 L56.75,354.15 L57.38,355.14 L58.00,356.13 L58.62,357.12 L59.25,358.11 L59.88,359.11 L60.50,360.10 L61.12,361.09 L61.75,362.08 L62.38,363.07 L63.00,364.06 L63.62,365.05 L64.25,366.04 L64.88,367.03 L65.50,368.03 L66.12,369.02 L66.75,370.01 L67.38,371.00 L68.00,371.99 L68.62,372.98 L69.25,373.97 L69.88,374.96 L70.50,375.95 L71.12,376.94 L71.75,377.94 L72.38,378.93 L73.00,379.92 L73.62,380.91 L74.25,381.90 L74.88,382.89 L75.50,383.88 L76.12,384.87 L76.75,385.86 L77.38,386.86 L78.00,387.85 L78.62,388.84 L79.25,389.83 L79.88,390.82 L80.50,391.81 L81.12,392.80 L81.75,393.79 L82.38,394.78 L83.00,395.77 L83.62,396.77 L84.25,397.76 L84.88,398.75 L85.50,399.74 L86.12,400.73 L86.75,401.72 L87.38,402.71 L88.00,403.70 L88.62,404.69 L89.25,405.69 L89.88,406.68 L90.50,407.67 L91.12,408.66 L91.75,409.65 L92.38,410.64 L93.00,411.63 L93.62,412.62 L94.25,413.61 L94.88,414.60 L95.50,415.60 L96.12,416.59 L96.75,417.58 L97.38,418.57 L98.00,419.56 L98.62,420.55 L99.25,421.54 L99.88,422.53 L100.50,423.52 L101.12,424.52 L101.75,425.51 L102.38,426.50 L103.00,427.49 L103.62,428.48 L104.25,429.47 L104.88,430.46 L105.50,431.45 L106.12,432.44 L106.75,433.44 L107.38,434.43 L108.00,435.42 L108.62,436.41 L109.25,437.40 L109.88,438.39 L110.50,439.38 L111.12,440.37 L111.75,441.36 L112.38,442.35 L113.00,443.35 L113.62,444.34 L114.25,445.33 L114.88,446.32 L115.50,447.31 L116.12,448.30 L116.75,449.29 L117.38,450.28 L118.00,451.27 L118.62,452.27 L119.25,453.26 L119.88,454.25 L120.50,455.24 L121.12,456.23 L121.75,457.22 L122.38,458.21 L123.00,459.20 L123.62,460.19 L124.25,461.18 L124.88,462.18 L125.50,463.17 L126.12,464.16 L126.75,465.15 L127.38,466.14 L128.00,467.13 L128.62,468.12 L129.25,469.11 L129.88,470.10 L130.50,471.10 L131.12,472.09 L131.75,473.08 L132.38,474.07 L133.00,475.06 L133.62,476.05 L134.25,477.04 L134.88,478.03 L135.50,479.02 L136.12,480.01 L136.75,481.01 L137.38,482.00 L138.00,482.99 L138.62,483.98 L139.25,484.97 L139.88,485.96 L140.50,486.95 L141.12,487.94 L141.75,488.93 L142.38,489.93 L143.00,490.92 L143.62,491.91 L144.25,492.90 L144.88,493.89 L145.50,494.88 L146.12,495.87 L146.75,496.86 L147.38,497.85 L148.00,498.85 L148.62,499.84 L149.25,500.83 L149.88,501.82 L150.50,502.81 L151.12,503.80 L151.75,504.79 L152.38,505.78 L153.00,506.77 L153.62,507.76 L154.25,508.76 L154.88,509.75 L155.50,510.74 L156.12,511.73 L156.75,512.72" fill="none" stroke="#2f62a3" stroke-width="1.5"/><path d="M63.70,430.06 L64.32,431.11 L64.95,432.16 L65.57,433.21 L66.20,434.26 L66.82,435.31 L67.45,436.36 L68.07,437.41 L68.70,438.46 L69.32,439.51 L69.95,440.56 L70.57,441.61 L71.20,442.66 L71.82,443.70 L72.45,444.75 L73.07,445.80 L73.70,446.85 L74.32,447.90 L74.95,448.95 L75.57,450.00 L76.20,451.05 L76.82,452.10 L77.45,453.15 L78.07,454.20 L78.70,455.25 L79.32,456.30 L79.95,457.35 L80.57,458.40 L81.20,459.45 L81.82,460.50 L82.45,461.55 L83.07,462.60 L83.70,463.65 L84.32,464.70 L84.95,465.75 L85.57,466.80 L86.20,467.85 L86.82,468.90 L87.45,469.95 L88.07,471.00 L88.70,472.05 L89.32,473.10 L89.95,474.15 L90.57,475.20 L91.20,476.25 L91.82,477.30 L92.45,478.35 L93.07,479.40 L93.70,480.45 L94.32,481.50 L94.95,482.55 L95.57,483.60 L96.20,484.65 L96.82,485.70 L97.45,486.75 L98.07,487.80 L98.70,488.85 L99.32,489.90 L99.95,490.95 L100.57,492.00 L101.20,493.05 L101.82,494.10 L102.45,495.15 L103.07,496.20 L103.70,497.25 L104.32,498.30 L104.95,499.35 L105.57,500.40 L106.20,501.45 L106.82,502.50 L107.45,503.55 L108.07,504.60 L108.70,505.65 L109.32,506.70 L109.95,507.75 L110.57,508.80 L111.20,509.85 L111.82,510.90 L112.45,511.95 L113.07,513.00" fill="none" stroke="#2f62a3" stroke-width="1.5"/><line x1="51.4" y1="189.7" x2="87.5" y2="298" stroke="#e04a56" stroke-width="1" stroke-dasharray="3.5,3"/><line x1="56" y1="245.6" x2="125" y2="265" stroke="#e04a56" stroke-width="1" stroke-dasharray="4.5,2,1,2"/><line x1="56" y1="269.3" x2="87.5" y2="391" stroke="#5d5796" stroke-width="1" stroke-dasharray="3.5,3"/><line x1="60.3" y1="313.1" x2="112" y2="346.5" stroke="#5d5796" stroke-width="1" stroke-dasharray="4.5,2,1,2"/></g>
<line x1="44.5" y1="18" x2="238" y2="18" stroke="#ababab" stroke-width="1.2"/>
<line x1="238" y1="17.5" x2="238" y2="508.6" stroke="#c9c9c9" stroke-width="1.8"/>
<line x1="44.5" y1="166.5" x2="44.5" y2="508" stroke="#7a7a7a" stroke-width="1.1"/>
<line x1="44" y1="508" x2="238" y2="508" stroke="#8a8a8a" stroke-width="1.3"/>
<line x1="44.5" y1="166.5" x2="237.3" y2="166.5" stroke="#555" stroke-width="1"/>
<line x1="44.5" y1="17.5" x2="44.5" y2="166.5" stroke="#e8929a" stroke-width="1.1"/>
<line x1="44.5" y1="24.9" x2="49.5" y2="24.9" stroke="#ec8e97" stroke-width="1"/>
<text x="40" y="28.3" text-anchor="end" class="tk" style="fill:#dc4a52" textLength="11.8" lengthAdjust="spacingAndGlyphs">1.0</text>
<line x1="233" y1="24.9" x2="238" y2="24.9" stroke="#8a8a8a" stroke-width="0.9"/>
<text x="242.3" y="28.3" class="tk" textLength="11.8" lengthAdjust="spacingAndGlyphs">1.0</text>
<line x1="44.5" y1="95.7" x2="49.5" y2="95.7" stroke="#ec8e97" stroke-width="1"/>
<text x="40" y="99.1" text-anchor="end" class="tk" style="fill:#dc4a52" textLength="11.8" lengthAdjust="spacingAndGlyphs">0.5</text>
<line x1="233" y1="95.7" x2="238" y2="95.7" stroke="#8a8a8a" stroke-width="0.9"/>
<text x="242.3" y="99.1" class="tk" textLength="11.8" lengthAdjust="spacingAndGlyphs">0.5</text>
<line x1="44.5" y1="166.4" x2="49.5" y2="166.4" stroke="#ec8e97" stroke-width="1"/>
<text x="40" y="169.8" text-anchor="end" class="tk" style="fill:#dc4a52" textLength="5.5" lengthAdjust="spacingAndGlyphs">0</text>
<line x1="233" y1="166.4" x2="238" y2="166.4" stroke="#8a8a8a" stroke-width="0.9"/>
<text x="242.3" y="169.8" class="tk" textLength="5.5" lengthAdjust="spacingAndGlyphs">0</text>
<line x1="99.8" y1="161.5" x2="99.8" y2="166.5" stroke="#8a8a8a" stroke-width="0.9"/>
<line x1="149.8" y1="161.5" x2="149.8" y2="166.5" stroke="#8a8a8a" stroke-width="0.9"/>
<line x1="199.8" y1="161.5" x2="199.8" y2="166.5" stroke="#8a8a8a" stroke-width="0.9"/>
<line x1="49.8" y1="503" x2="49.8" y2="508" stroke="#8a8a8a" stroke-width="0.9"/>
<text x="49.8" y="519.7" text-anchor="middle" class="tk" textLength="5.5" lengthAdjust="spacingAndGlyphs">0</text>
<line x1="99.8" y1="503" x2="99.8" y2="508" stroke="#8a8a8a" stroke-width="0.9"/>
<text x="99.8" y="519.7" text-anchor="middle" class="tk" textLength="11.5" lengthAdjust="spacingAndGlyphs">20</text>
<line x1="149.8" y1="503" x2="149.8" y2="508" stroke="#8a8a8a" stroke-width="0.9"/>
<text x="149.8" y="519.7" text-anchor="middle" class="tk" textLength="11.2" lengthAdjust="spacingAndGlyphs">40</text>
<line x1="199.8" y1="503" x2="199.8" y2="508" stroke="#8a8a8a" stroke-width="0.9"/>
<text x="199.8" y="519.7" text-anchor="middle" class="tk" textLength="11.0" lengthAdjust="spacingAndGlyphs">60</text>
<line x1="44.5" y1="508.3" x2="49.5" y2="508.3" stroke="#444" stroke-width="0.9"/>
<text x="40.3" y="511.7" text-anchor="end" class="tk" textLength="4.6" lengthAdjust="spacingAndGlyphs">1</text>
<line x1="44.5" y1="394.2" x2="49.5" y2="394.2" stroke="#444" stroke-width="0.9"/>
<text x="40.3" y="397.6" text-anchor="end" class="tk" textLength="10.1" lengthAdjust="spacingAndGlyphs">10</text>
<line x1="44.5" y1="280.1" x2="49.5" y2="280.1" stroke="#444" stroke-width="0.9"/>
<text x="40.3" y="283.5" text-anchor="end" class="tk" textLength="15.6" lengthAdjust="spacingAndGlyphs">100</text>
<text x="-0.5" y="11.6" class="pl">a</text>
<text x="59.3" y="32" class="tl" fill="#dc4a52" textLength="29.5">200 K</text>
<text x="59.2" y="190" class="tl" fill="#dc4a52" textLength="27">160 K</text>
<text x="58.8" y="270" class="tl" fill="#837db3" textLength="27">120 K</text>
<text x="58.8" y="352" class="tl" fill="#4877b5" textLength="27">100 K</text>
<text x="59.7" y="422" class="tl" fill="#4877b5" textLength="15">5 K</text>
<line x1="158.9" y1="28.2" x2="171.7" y2="28.2" stroke="#d52b38" stroke-width="1.2"/>
<line x1="158.9" y1="43.6" x2="171.7" y2="43.6" stroke="#444" stroke-width="1.1" stroke-dasharray="3.8,4.6"/>
<line x1="158.9" y1="58.7" x2="171.7" y2="58.7" stroke="#444" stroke-width="1.1" stroke-dasharray="4.2,2.6,0.8,2.4"/>
<text x="176.7" y="32.2" style="font-size:10.6px" textLength="12.1" lengthAdjust="spacingAndGlyphs">Δ<tspan font-style="italic">E</tspan></text>
<text x="189.4" y="26.6" style="font-size:8.2px" textLength="14.5" lengthAdjust="spacingAndGlyphs">max</text>
<text x="189.4" y="35.7" style="font-size:7.2px" textLength="13.2" lengthAdjust="spacingAndGlyphs">MIR</text>
<text x="176.7" y="47.6" class="lg"><tspan font-style="italic">N</tspan><tspan class="sb" dy="2.7">intra</tspan><tspan dy="-2.7">/</tspan><tspan font-style="italic">N</tspan><tspan class="sb" dy="2.7">total</tspan></text>
<text x="176.7" y="62.7" class="lg"><tspan font-style="italic">N</tspan><tspan class="sb" dy="2.7">inter</tspan><tspan dy="-2.7">/</tspan><tspan font-style="italic">N</tspan><tspan class="sb" dy="2.7">total</tspan></text>
<g transform="translate(14.1,124.8) rotate(-90)" fill="#dc4a52"><text x="0" y="0" style="font-size:10.8px" textLength="11.8" lengthAdjust="spacingAndGlyphs">Δ<tspan font-style="italic">E</tspan></text><text x="12.9" y="-7.4" style="font-size:8px" textLength="14.1" lengthAdjust="spacingAndGlyphs">max</text><text x="12.9" y="2.9" style="font-size:7px" textLength="12.3" lengthAdjust="spacingAndGlyphs">MIR</text><text x="30.4" y="0" style="font-size:10.8px" textLength="36.1">(norm.)</text></g>
<g transform="translate(14.1,370.2) rotate(-90)" fill="#333333"><text x="0" y="0" style="font-size:10.8px" textLength="11.8" lengthAdjust="spacingAndGlyphs">Δ<tspan font-style="italic">E</tspan></text><text x="12.9" y="-7.4" style="font-size:8px" textLength="14.1" lengthAdjust="spacingAndGlyphs">max</text><text x="12.9" y="2.9" style="font-size:7px" textLength="12.3" lengthAdjust="spacingAndGlyphs">MIR</text><text x="30.4" y="0" style="font-size:10.8px" textLength="36.1">(norm.)</text></g>
<text transform="translate(265.5,91.5) rotate(90)" text-anchor="middle" class="at" textLength="77.5">Density fraction</text>
<text x="141.2" y="535.5" text-anchor="middle" class="at" textLength="93.6">Delay time, <tspan font-style="italic">t</tspan><tspan class="sb" dy="2.5">pp</tspan><tspan dy="-2.5"> (ps)</tspan></text>
<rect x="137.4" y="176" width="65.4" height="11.8" fill="url(#gbar)"/>
<line x1="135.7" y1="258" x2="200.6" y2="258" stroke="#111" stroke-width="2.2"/>
<text x="202.4" y="261.8" class="at" fill="#222">GS</text>
<line x1="153.3" y1="257" x2="153.3" y2="185" stroke="#f3a93b" stroke-width="1.5"/>
<path d="M150.6,186.8 L153.3,180.3 L156,186.8 Z" fill="#f3a93b"/>
<text x="124.6" y="223.6" class="at" fill="#f3a93b">NIR</text>
<line x1="159.3" y1="210" x2="176.8" y2="210" stroke="#285c9e" stroke-width="2.2"/>
<line x1="168.1" y1="209.8" x2="168.1" y2="252" stroke="#245a9c" stroke-width="1.7"/>
<path d="M165.4,250.3 L168.1,257 L170.8,250.3 Z" fill="#245a9c"/>
<line x1="181.1" y1="207.8" x2="198.7" y2="207.8" stroke="#d42a37" stroke-width="2.2"/>
<line x1="190" y1="208" x2="190" y2="252" stroke="#d42333" stroke-width="1.7"/>
<path d="M187.3,250.3 L190,257 L192.7,250.3 Z" fill="#d42333"/>
<text x="155.6" y="236.3" style="font-size:12px" font-style="italic" fill="#2a5d9f">τ<tspan style="font-size:8.6px" dy="2.2" font-style="normal">1</tspan></text>
<text x="176.3" y="236.3" style="font-size:12px" font-style="italic" fill="#d42a37">τ<tspan style="font-size:8.6px" dy="2.2" font-style="normal">2</tspan></text>
<text x="203.3" y="209" class="lg" fill="#d42a37">X<tspan class="sb" dy="2.2">inter</tspan></text>
<text x="203.3" y="223" class="lg" fill="#2f63a5">X<tspan class="sb" dy="2.2">intra</tspan></text>
<path d="M170.8,209 C170.5,198.5 182,195.5 184.8,203" fill="none" stroke="#6a4fb3" stroke-width="1.7"/>
<path d="M181.6,202.6 L185.8,207.2 L187.4,201.2 Z" fill="#6a4fb3"/>
<path d="M155,181.8 C162,182.5 166.5,190 167.4,204.5" fill="none" stroke="#94a3a0" stroke-width="1.7" stroke-dasharray="2.4,1.6"/>
<path d="M164.9,203.2 L167.4,207.8 L169.9,203.2" fill="none" stroke="#94a3a0" stroke-width="1.5"/>
<path d="M156.5,181.3 C173,181.5 186,188 189.7,204.5" fill="none" stroke="#94a3a0" stroke-width="1.7" stroke-dasharray="2.4,1.6"/>
<path d="M187.2,202.8 L189.8,207.4 L192.2,202.6" fill="none" stroke="#94a3a0" stroke-width="1.5"/>
<line x1="337.5" y1="17.6" x2="479.5" y2="17.6" stroke="#a8a8a8" stroke-width="1.1"/><line x1="479.5" y1="17.6" x2="479.5" y2="225.4" stroke="#7c7c7c" stroke-width="1"/><line x1="337.5" y1="17.6" x2="337.5" y2="225.4" stroke="#5e5e5e" stroke-width="1.0"/><line x1="337.0" y1="225.4" x2="480.0" y2="225.4" stroke="#5e5e5e" stroke-width="1"/>
<line x1="337.5" y1="225.4" x2="342.5" y2="225.4" stroke="#8a8a8a" stroke-width="0.9"/>
<text x="333" y="228.8" text-anchor="end" class="tk" textLength="5.5" lengthAdjust="spacingAndGlyphs">0</text>
<line x1="337.5" y1="160.6" x2="342.5" y2="160.6" stroke="#8a8a8a" stroke-width="0.9"/>
<text x="333" y="164.0" text-anchor="end" class="tk" textLength="11.0" lengthAdjust="spacingAndGlyphs">50</text>
<line x1="337.5" y1="95.8" x2="342.5" y2="95.8" stroke="#8a8a8a" stroke-width="0.9"/>
<text x="333" y="99.2" text-anchor="end" class="tk" textLength="15.6" lengthAdjust="spacingAndGlyphs">100</text>
<line x1="337.5" y1="31.0" x2="342.5" y2="31.0" stroke="#8a8a8a" stroke-width="0.9"/>
<text x="333" y="34.4" text-anchor="end" class="tk" textLength="15.6" lengthAdjust="spacingAndGlyphs">150</text>
<line x1="337.5" y1="220.4" x2="337.5" y2="225.4" stroke="#8a8a8a" stroke-width="0.9"/>
<text x="337.5" y="236.5" text-anchor="middle" class="tk" textLength="5.5" lengthAdjust="spacingAndGlyphs">0</text>
<line x1="394.3" y1="220.4" x2="394.3" y2="225.4" stroke="#8a8a8a" stroke-width="0.9"/>
<text x="394.3" y="236.5" text-anchor="middle" class="tk" textLength="15.6" lengthAdjust="spacingAndGlyphs">100</text>
<line x1="451.1" y1="220.4" x2="451.1" y2="225.4" stroke="#8a8a8a" stroke-width="0.9"/>
<text x="451.1" y="236.5" text-anchor="middle" class="tk" textLength="17.0" lengthAdjust="spacingAndGlyphs">200</text>
<line x1="412.5" y1="17.6" x2="412.5" y2="225.4" stroke="#4272b9" stroke-width="1.5" stroke-dasharray="6.3,5.6"/>
<path d="M400.2,192.4 L405.1,184.0 L410.0,192.4 Z" fill="#d22b38"/>
<path d="M423.2,149.8 L428.1,141.4 L433.0,149.8 Z" fill="#d22b38"/>
<path d="M445.9,122.7 L450.8,114.3 L455.7,122.7 Z" fill="#d22b38"/>
<circle cx="340.3" cy="210.1" r="4.3" fill="#2c5b97"/>
<circle cx="394.2" cy="209.0" r="4.3" fill="#2c5b97"/>
<circle cx="405.1" cy="218.2" r="4.3" fill="#2c5b97"/>
<circle cx="428.1" cy="216.6" r="4.3" fill="#2c5b97"/>
<circle cx="450.4" cy="216.2" r="4.3" fill="#2c5b97"/>
<circle cx="347.8" cy="25.4" r="4.3" fill="#2c5b97"/>
<path d="M342.9,46.8 L347.8,38.4 L352.7,46.8 Z" fill="#d22b38"/>
<text x="357" y="29.2" class="lg">X<tspan class="sb" dy="2.4">intra</tspan></text>
<text x="357" y="47" class="lg">X<tspan class="sb" dy="2.4">inter</tspan></text>
<text x="300.5" y="11.6" class="pl">b</text>
<text x="401" y="12.6" text-anchor="middle" class="at"><tspan font-style="italic">B</tspan> = 0</text>
<text transform="translate(310,122) rotate(-90)" text-anchor="middle" class="at" textLength="103.6">Decay constants (ps)</text>
<text x="408.5" y="251.8" text-anchor="middle" class="at"><tspan font-style="italic">T</tspan> (K)</text>
<line x1="337.5" y1="300.5" x2="479.5" y2="300.5" stroke="#a8a8a8" stroke-width="1.1"/><line x1="479.5" y1="300.5" x2="479.5" y2="508" stroke="#7c7c7c" stroke-width="1"/><line x1="337.5" y1="300.5" x2="337.5" y2="508" stroke="#5e5e5e" stroke-width="1.0"/><line x1="337.0" y1="508" x2="480.0" y2="508" stroke="#5e5e5e" stroke-width="1"/>
<line x1="337.5" y1="508.0" x2="342.5" y2="508.0" stroke="#8a8a8a" stroke-width="0.9"/>
<text x="333" y="511.4" text-anchor="end" class="tk" textLength="5.5" lengthAdjust="spacingAndGlyphs">0</text>
<line x1="337.5" y1="443.2" x2="342.5" y2="443.2" stroke="#8a8a8a" stroke-width="0.9"/>
<text x="333" y="446.6" text-anchor="end" class="tk" textLength="11.0" lengthAdjust="spacingAndGlyphs">50</text>
<line x1="337.5" y1="378.4" x2="342.5" y2="378.4" stroke="#8a8a8a" stroke-width="0.9"/>
<text x="333" y="381.8" text-anchor="end" class="tk" textLength="15.6" lengthAdjust="spacingAndGlyphs">100</text>
<line x1="337.5" y1="313.6" x2="342.5" y2="313.6" stroke="#8a8a8a" stroke-width="0.9"/>
<text x="333" y="317.0" text-anchor="end" class="tk" textLength="15.6" lengthAdjust="spacingAndGlyphs">150</text>
<line x1="337.5" y1="503" x2="337.5" y2="508" stroke="#8a8a8a" stroke-width="0.9"/>
<text x="337.5" y="519.7" text-anchor="middle" class="tk" textLength="5.5" lengthAdjust="spacingAndGlyphs">0</text>
<line x1="394.3" y1="503" x2="394.3" y2="508" stroke="#8a8a8a" stroke-width="0.9"/>
<text x="394.3" y="519.7" text-anchor="middle" class="tk" textLength="15.6" lengthAdjust="spacingAndGlyphs">100</text>
<line x1="451.1" y1="503" x2="451.1" y2="508" stroke="#8a8a8a" stroke-width="0.9"/>
<text x="451.1" y="519.7" text-anchor="middle" class="tk" textLength="17.0" lengthAdjust="spacingAndGlyphs">200</text>
<line x1="382.7" y1="300.5" x2="382.7" y2="508" stroke="#c8c8c8" stroke-width="1.5" stroke-dasharray="6,5.7"/>
<line x1="412.5" y1="300.5" x2="412.5" y2="508" stroke="#4272b9" stroke-width="1.5" stroke-dasharray="6.3,5.6"/>
<path d="M389.2,359.0 L394.1,350.6 L399.0,359.0 Z" fill="#d22b38"/>
<path d="M417.5,363.4 L422.4,355.0 L427.3,363.4 Z" fill="#d22b38"/>
<path d="M446.0,359.1 L450.9,350.7 L455.8,359.1 Z" fill="#d22b38"/>
<path d="M380.6,449.6 L385.5,441.2 L390.4,449.6 Z" fill="#d22b38"/>
<circle cx="342.5" cy="487.2" r="4.3" fill="#2c5b97"/>
<circle cx="359.8" cy="489.2" r="4.3" fill="#2c5b97"/>
<circle cx="377.2" cy="496.7" r="4.3" fill="#2c5b97"/>
<circle cx="385.9" cy="497.4" r="4.3" fill="#2c5b97"/>
<circle cx="394.1" cy="497.0" r="4.3" fill="#2c5b97"/>
<circle cx="422.3" cy="497.2" r="4.3" fill="#2c5b97"/>
<circle cx="450.9" cy="491.7" r="4.3" fill="#2c5b97"/>
<circle cx="347.8" cy="307.4" r="4.3" fill="#2c5b97"/>
<path d="M342.9,329.2 L347.8,320.8 L352.7,329.2 Z" fill="#d22b38"/>
<text x="357" y="311.2" class="lg">X<tspan class="sb" dy="2.4">intra</tspan></text>
<text x="357" y="329" class="lg">X<tspan class="sb" dy="2.4">inter</tspan></text>
<text x="300.5" y="296.6" class="pl">c</text>
<text x="399" y="296.2" text-anchor="middle" class="at"><tspan font-style="italic">B</tspan> &gt; 0</text>
<text transform="translate(310,404) rotate(-90)" text-anchor="middle" class="at" textLength="103.6">Decay constants (ps)</text>
<text x="408.5" y="535.8" text-anchor="middle" class="at"><tspan font-style="italic">T</tspan> (K)</text>
<line x1="507.9" y1="17.8" x2="650.2" y2="17.8" stroke="#aaaaaa" stroke-width="1.1"/><line x1="650.2" y1="17.8" x2="650.2" y2="225.4" stroke="#939393" stroke-width="1"/><line x1="507.9" y1="17.8" x2="507.9" y2="225.4" stroke="#c2c2c2" stroke-width="1.5"/><line x1="507.4" y1="225.4" x2="650.7" y2="225.4" stroke="#666" stroke-width="1"/>
<line x1="645.2" y1="225.4" x2="650.2" y2="225.4" stroke="#8a8a8a" stroke-width="0.9"/>
<text x="654.3" y="228.8" class="tk" textLength="5.5" lengthAdjust="spacingAndGlyphs">0</text>
<line x1="645.2" y1="131.1" x2="650.2" y2="131.1" stroke="#8a8a8a" stroke-width="0.9"/>
<text x="654.3" y="134.5" class="tk" textLength="11.8" lengthAdjust="spacingAndGlyphs">0.5</text>
<line x1="645.2" y1="36.8" x2="650.2" y2="36.8" stroke="#8a8a8a" stroke-width="0.9"/>
<text x="654.3" y="40.2" class="tk" textLength="11.8" lengthAdjust="spacingAndGlyphs">1.0</text>
<line x1="507.9" y1="220.4" x2="507.9" y2="225.4" stroke="#8a8a8a" stroke-width="0.9"/>
<text x="507.9" y="236.5" text-anchor="middle" class="tk" textLength="5.5" lengthAdjust="spacingAndGlyphs">0</text>
<line x1="564.7" y1="220.4" x2="564.7" y2="225.4" stroke="#8a8a8a" stroke-width="0.9"/>
<text x="564.7" y="236.5" text-anchor="middle" class="tk" textLength="15.6" lengthAdjust="spacingAndGlyphs">100</text>
<line x1="621.5" y1="220.4" x2="621.5" y2="225.4" stroke="#8a8a8a" stroke-width="0.9"/>
<text x="621.5" y="236.5" text-anchor="middle" class="tk" textLength="17.0" lengthAdjust="spacingAndGlyphs">200</text>
<line x1="583" y1="17.8" x2="583" y2="225.4" stroke="#4272b9" stroke-width="1.5" stroke-dasharray="6.3,5.6"/>
<path d="M571.0,78.7 L575.9,70.3 L580.8,78.7 Z" fill="#d22b38"/>
<path d="M593.6,109.8 L598.5,101.4 L603.4,109.8 Z" fill="#d22b38"/>
<path d="M616.5,89.5 L621.4,81.1 L626.3,89.5 Z" fill="#d22b38"/>
<circle cx="510.6" cy="36.7" r="4.3" fill="#2c5b97"/>
<circle cx="564.8" cy="36.7" r="4.3" fill="#2c5b97"/>
<circle cx="576.0" cy="186.3" r="4.3" fill="#2c5b97"/>
<circle cx="598.7" cy="155.6" r="4.3" fill="#2c5b97"/>
<circle cx="621.5" cy="175.8" r="4.3" fill="#2c5b97"/>
<path d="M505.8,228.4 L510.7,220.0 L515.6,228.4 Z" fill="#d22b38"/>
<path d="M559.9,228.4 L564.8,220.0 L569.7,228.4 Z" fill="#d22b38"/>
<text x="508.2" y="11.6" class="pl">d</text>
<text x="575.7" y="12.6" text-anchor="middle" class="at"><tspan font-style="italic">B</tspan> = 0</text>
<text x="597" y="29.6" style="font-size:10.2px" textLength="45.6"><tspan font-style="italic">t</tspan><tspan class="sb" dy="3">pp</tspan><tspan dy="-3"> = 0 ps</tspan></text>
<text transform="translate(676,118.9) rotate(90)" text-anchor="middle" class="at" textLength="79">Density fraction</text>
<text x="578.5" y="251.8" text-anchor="middle" class="at"><tspan font-style="italic">T</tspan> (K)</text>
<line x1="507.9" y1="300.5" x2="650.2" y2="300.5" stroke="#aaaaaa" stroke-width="1.1"/><line x1="650.2" y1="300.5" x2="650.2" y2="508.2" stroke="#939393" stroke-width="1"/><line x1="507.9" y1="300.5" x2="507.9" y2="508.2" stroke="#c2c2c2" stroke-width="1.5"/><line x1="507.4" y1="508.2" x2="650.7" y2="508.2" stroke="#666" stroke-width="1"/>
<line x1="645.2" y1="508.2" x2="650.2" y2="508.2" stroke="#8a8a8a" stroke-width="0.9"/>
<text x="654.3" y="511.6" class="tk" textLength="5.5" lengthAdjust="spacingAndGlyphs">0</text>
<line x1="645.2" y1="413.6" x2="650.2" y2="413.6" stroke="#8a8a8a" stroke-width="0.9"/>
<text x="654.3" y="417.0" class="tk" textLength="11.8" lengthAdjust="spacingAndGlyphs">0.5</text>
<line x1="645.2" y1="319.0" x2="650.2" y2="319.0" stroke="#8a8a8a" stroke-width="0.9"/>
<text x="654.3" y="322.4" class="tk" textLength="11.8" lengthAdjust="spacingAndGlyphs">1.0</text>
<line x1="507.9" y1="503.2" x2="507.9" y2="508.2" stroke="#8a8a8a" stroke-width="0.9"/>
<text x="507.9" y="519.7" text-anchor="middle" class="tk" textLength="5.5" lengthAdjust="spacingAndGlyphs">0</text>
<line x1="564.7" y1="503.2" x2="564.7" y2="508.2" stroke="#8a8a8a" stroke-width="0.9"/>
<text x="564.7" y="519.7" text-anchor="middle" class="tk" textLength="15.6" lengthAdjust="spacingAndGlyphs">100</text>
<line x1="621.5" y1="503.2" x2="621.5" y2="508.2" stroke="#8a8a8a" stroke-width="0.9"/>
<text x="621.5" y="519.7" text-anchor="middle" class="tk" textLength="17.0" lengthAdjust="spacingAndGlyphs">200</text>
<line x1="553.3" y1="300.5" x2="553.3" y2="508.2" stroke="#c8c8c8" stroke-width="1.5" stroke-dasharray="6,5.7"/>
<line x1="583" y1="300.5" x2="583" y2="508.2" stroke="#4272b9" stroke-width="1.5" stroke-dasharray="6.3,5.6"/>
<circle cx="513.3" cy="319.2" r="4.3" fill="#2c5b97"/>
<circle cx="530.4" cy="319.2" r="4.3" fill="#2c5b97"/>
<circle cx="547.8" cy="319.2" r="4.3" fill="#2c5b97"/>
<circle cx="556.3" cy="347.4" r="4.3" fill="#2c5b97"/>
<circle cx="564.6" cy="394.8" r="4.3" fill="#2c5b97"/>
<circle cx="593.0" cy="434.2" r="4.3" fill="#2c5b97"/>
<circle cx="621.5" cy="470.6" r="4.3" fill="#2c5b97"/>
<path d="M559.7,435.1 L564.6,426.7 L569.5,435.1 Z" fill="#d22b38"/>
<path d="M588.2,396.1 L593.1,387.7 L598.0,396.1 Z" fill="#d22b38"/>
<path d="M616.6,359.2 L621.5,350.8 L626.4,359.2 Z" fill="#d22b38"/>
<path d="M551.4,482.8 L556.3,474.4 L561.2,482.8 Z" fill="#d22b38"/>
<g clip-path="url(#cpe)"><path d="M508.4,510.3 L513.3,501.9 L518.2,510.3 Z" fill="#d22b38"/></g>
<g clip-path="url(#cpe)"><path d="M525.5,510.3 L530.4,501.9 L535.3,510.3 Z" fill="#d22b38"/></g>
<g clip-path="url(#cpe)"><path d="M542.9,510.3 L547.8,501.9 L552.7,510.3 Z" fill="#d22b38"/></g>
<text x="508.5" y="296.6" class="pl">e</text>
<text x="576" y="296.2" text-anchor="middle" class="at"><tspan font-style="italic">B</tspan> &gt; 0</text>
<text x="597" y="312.2" style="font-size:10.2px" textLength="45.6"><tspan font-style="italic">t</tspan><tspan class="sb" dy="3">pp</tspan><tspan dy="-3"> = 0 ps</tspan></text>
<text transform="translate(676,401.4) rotate(90)" text-anchor="middle" class="at" textLength="79">Density fraction</text>
<text x="578.5" y="535.8" text-anchor="middle" class="at"><tspan font-style="italic">T</tspan> (K)</text>
<line x1="405.1" y1="183.5" x2="405.1" y2="193.5" stroke="#c9c9c9" stroke-width="1"/><line x1="402.1" y1="183.5" x2="408.1" y2="183.5" stroke="#c9c9c9" stroke-width="1"/><line x1="402.1" y1="193.5" x2="408.1" y2="193.5" stroke="#c9c9c9" stroke-width="1"/>
<line x1="428.1" y1="137.4" x2="428.1" y2="154.7" stroke="#c9c9c9" stroke-width="1"/><line x1="423.6" y1="137.4" x2="432.6" y2="137.4" stroke="#c9c9c9" stroke-width="1"/><line x1="423.6" y1="154.7" x2="432.6" y2="154.7" stroke="#c9c9c9" stroke-width="1"/>
<line x1="450.8" y1="110.4" x2="450.8" y2="127.5" stroke="#c9c9c9" stroke-width="1"/><line x1="446.3" y1="110.4" x2="455.3" y2="110.4" stroke="#c9c9c9" stroke-width="1"/><line x1="446.3" y1="127.5" x2="455.3" y2="127.5" stroke="#c9c9c9" stroke-width="1"/>
<line x1="336.8" y1="210.1" x2="343.8" y2="210.1" stroke="#d6d6d6" stroke-width="1"/>
<line x1="390.7" y1="209.0" x2="397.7" y2="209.0" stroke="#d6d6d6" stroke-width="1"/>
<line x1="401.6" y1="216.9" x2="408.6" y2="216.9" stroke="#d6d6d6" stroke-width="0.9"/><line x1="401.6" y1="219.5" x2="408.6" y2="219.5" stroke="#d6d6d6" stroke-width="0.9"/><line x1="405.1" y1="216.9" x2="405.1" y2="219.5" stroke="#d6d6d6" stroke-width="0.9"/>
<line x1="424.6" y1="216.6" x2="431.6" y2="216.6" stroke="#d6d6d6" stroke-width="1"/>
<line x1="446.9" y1="214.9" x2="453.9" y2="214.9" stroke="#d6d6d6" stroke-width="0.9"/><line x1="446.9" y1="217.5" x2="453.9" y2="217.5" stroke="#d6d6d6" stroke-width="0.9"/><line x1="450.4" y1="214.9" x2="450.4" y2="217.5" stroke="#d6d6d6" stroke-width="0.9"/>
<line x1="394.1" y1="300.5" x2="394.1" y2="419.3" stroke="#c9c9c9" stroke-width="1"/><line x1="390" y1="419.3" x2="398.3" y2="419.3" stroke="#c9c9c9" stroke-width="1"/>
<line x1="422.4" y1="324.3" x2="422.4" y2="384.4" stroke="#c9c9c9" stroke-width="1"/><line x1="417.9" y1="324.3" x2="426.9" y2="324.3" stroke="#c9c9c9" stroke-width="1"/><line x1="417.9" y1="384.4" x2="426.9" y2="384.4" stroke="#c9c9c9" stroke-width="1"/>
<line x1="450.9" y1="324.3" x2="450.9" y2="378.3" stroke="#c9c9c9" stroke-width="1"/><line x1="446.4" y1="324.3" x2="455.4" y2="324.3" stroke="#c9c9c9" stroke-width="1"/><line x1="446.4" y1="378.3" x2="455.4" y2="378.3" stroke="#c9c9c9" stroke-width="1"/>
<line x1="385.5" y1="428.5" x2="385.5" y2="457.4" stroke="#c9c9c9" stroke-width="1"/><line x1="382.5" y1="428.5" x2="388.5" y2="428.5" stroke="#c9c9c9" stroke-width="1"/><line x1="382.5" y1="457.4" x2="388.5" y2="457.4" stroke="#c9c9c9" stroke-width="1"/>
<line x1="359.8" y1="489" x2="359.8" y2="508" stroke="#c9c9c9" stroke-width="1"/>
<line x1="450.9" y1="484.2" x2="450.9" y2="495.6" stroke="#c9c9c9" stroke-width="1"/><line x1="446.6" y1="484.2" x2="455.2" y2="484.2" stroke="#c9c9c9" stroke-width="1"/><line x1="446.6" y1="495.6" x2="455.2" y2="495.6" stroke="#c9c9c9" stroke-width="1"/>
<line x1="339.0" y1="487.2" x2="346.0" y2="487.2" stroke="#d6d6d6" stroke-width="1"/>

<line x1="373.7" y1="496.7" x2="380.7" y2="496.7" stroke="#d6d6d6" stroke-width="1"/>
<line x1="382.4" y1="497.4" x2="389.4" y2="497.4" stroke="#d6d6d6" stroke-width="1"/>
<line x1="390.6" y1="497.0" x2="397.6" y2="497.0" stroke="#d6d6d6" stroke-width="1"/>
<line x1="418.8" y1="495.9" x2="425.8" y2="495.9" stroke="#d6d6d6" stroke-width="0.9"/><line x1="418.8" y1="498.5" x2="425.8" y2="498.5" stroke="#d6d6d6" stroke-width="0.9"/><line x1="422.3" y1="495.9" x2="422.3" y2="498.5" stroke="#d6d6d6" stroke-width="0.9"/>

<line x1="575.9" y1="60.4" x2="575.9" y2="90.7" stroke="#c9c9c9" stroke-width="1"/><line x1="571.4" y1="60.4" x2="580.4" y2="60.4" stroke="#c9c9c9" stroke-width="1"/><line x1="571.4" y1="90.7" x2="580.4" y2="90.7" stroke="#c9c9c9" stroke-width="1"/>
<line x1="598.5" y1="94.7" x2="598.5" y2="118.7" stroke="#c9c9c9" stroke-width="1"/><line x1="594.0" y1="94.7" x2="603.0" y2="94.7" stroke="#c9c9c9" stroke-width="1"/><line x1="594.0" y1="118.7" x2="603.0" y2="118.7" stroke="#c9c9c9" stroke-width="1"/>
<line x1="621.4" y1="78.3" x2="621.4" y2="93.9" stroke="#c9c9c9" stroke-width="1"/><line x1="616.9" y1="78.3" x2="625.9" y2="78.3" stroke="#c9c9c9" stroke-width="1"/><line x1="616.9" y1="93.9" x2="625.9" y2="93.9" stroke="#c9c9c9" stroke-width="1"/>
<line x1="576.0" y1="171.2" x2="576.0" y2="202.0" stroke="#c9c9c9" stroke-width="1"/><line x1="571.5" y1="171.2" x2="580.5" y2="171.2" stroke="#c9c9c9" stroke-width="1"/><line x1="571.5" y1="202.0" x2="580.5" y2="202.0" stroke="#c9c9c9" stroke-width="1"/>
<line x1="598.7" y1="143.3" x2="598.7" y2="167.5" stroke="#c9c9c9" stroke-width="1"/><line x1="594.2" y1="143.3" x2="603.2" y2="143.3" stroke="#c9c9c9" stroke-width="1"/><line x1="594.2" y1="167.5" x2="603.2" y2="167.5" stroke="#c9c9c9" stroke-width="1"/>
<line x1="621.5" y1="168.4" x2="621.5" y2="183.2" stroke="#c9c9c9" stroke-width="1"/><line x1="617.0" y1="168.4" x2="626.0" y2="168.4" stroke="#c9c9c9" stroke-width="1"/><line x1="617.0" y1="183.2" x2="626.0" y2="183.2" stroke="#c9c9c9" stroke-width="1"/>
<line x1="556.3" y1="300.5" x2="556.3" y2="508.2" stroke="#c9c9c9" stroke-width="1"/>
<line x1="552.5" y1="371.1" x2="560.5" y2="371.1" stroke="#c9c9c9" stroke-width="1"/><line x1="552.5" y1="456.4" x2="560.5" y2="456.4" stroke="#c9c9c9" stroke-width="1"/>
<line x1="564.6" y1="376.3" x2="564.6" y2="413.7" stroke="#c9c9c9" stroke-width="1"/><line x1="560.1" y1="376.3" x2="569.1" y2="376.3" stroke="#c9c9c9" stroke-width="1"/><line x1="560.1" y1="413.7" x2="569.1" y2="413.7" stroke="#c9c9c9" stroke-width="1"/>
<line x1="564.6" y1="413.7" x2="564.6" y2="450.7" stroke="#c9c9c9" stroke-width="1"/><line x1="560.1" y1="413.7" x2="569.1" y2="413.7" stroke="#c9c9c9" stroke-width="1"/><line x1="560.1" y1="450.7" x2="569.1" y2="450.7" stroke="#c9c9c9" stroke-width="1"/>
<line x1="593.1" y1="370.4" x2="593.1" y2="456.9" stroke="#c9c9c9" stroke-width="1"/><line x1="588.6" y1="370.4" x2="597.6" y2="370.4" stroke="#c9c9c9" stroke-width="1"/><line x1="588.6" y1="456.9" x2="597.6" y2="456.9" stroke="#c9c9c9" stroke-width="1"/>
<line x1="588.5" y1="411.5" x2="597.6" y2="411.5" stroke="#c9c9c9" stroke-width="1"/><line x1="588.5" y1="415.6" x2="597.6" y2="415.6" stroke="#c9c9c9" stroke-width="1"/>
<line x1="621.5" y1="339.3" x2="621.5" y2="373.5" stroke="#c9c9c9" stroke-width="1"/><line x1="617.0" y1="339.3" x2="626.0" y2="339.3" stroke="#c9c9c9" stroke-width="1"/><line x1="617.0" y1="373.5" x2="626.0" y2="373.5" stroke="#c9c9c9" stroke-width="1"/>
<line x1="621.5" y1="454.1" x2="621.5" y2="487.7" stroke="#c9c9c9" stroke-width="1"/><line x1="617.0" y1="454.1" x2="626.0" y2="454.1" stroke="#c9c9c9" stroke-width="1"/><line x1="617.0" y1="487.7" x2="626.0" y2="487.7" stroke="#c9c9c9" stroke-width="1"/>
</svg></body></html>
